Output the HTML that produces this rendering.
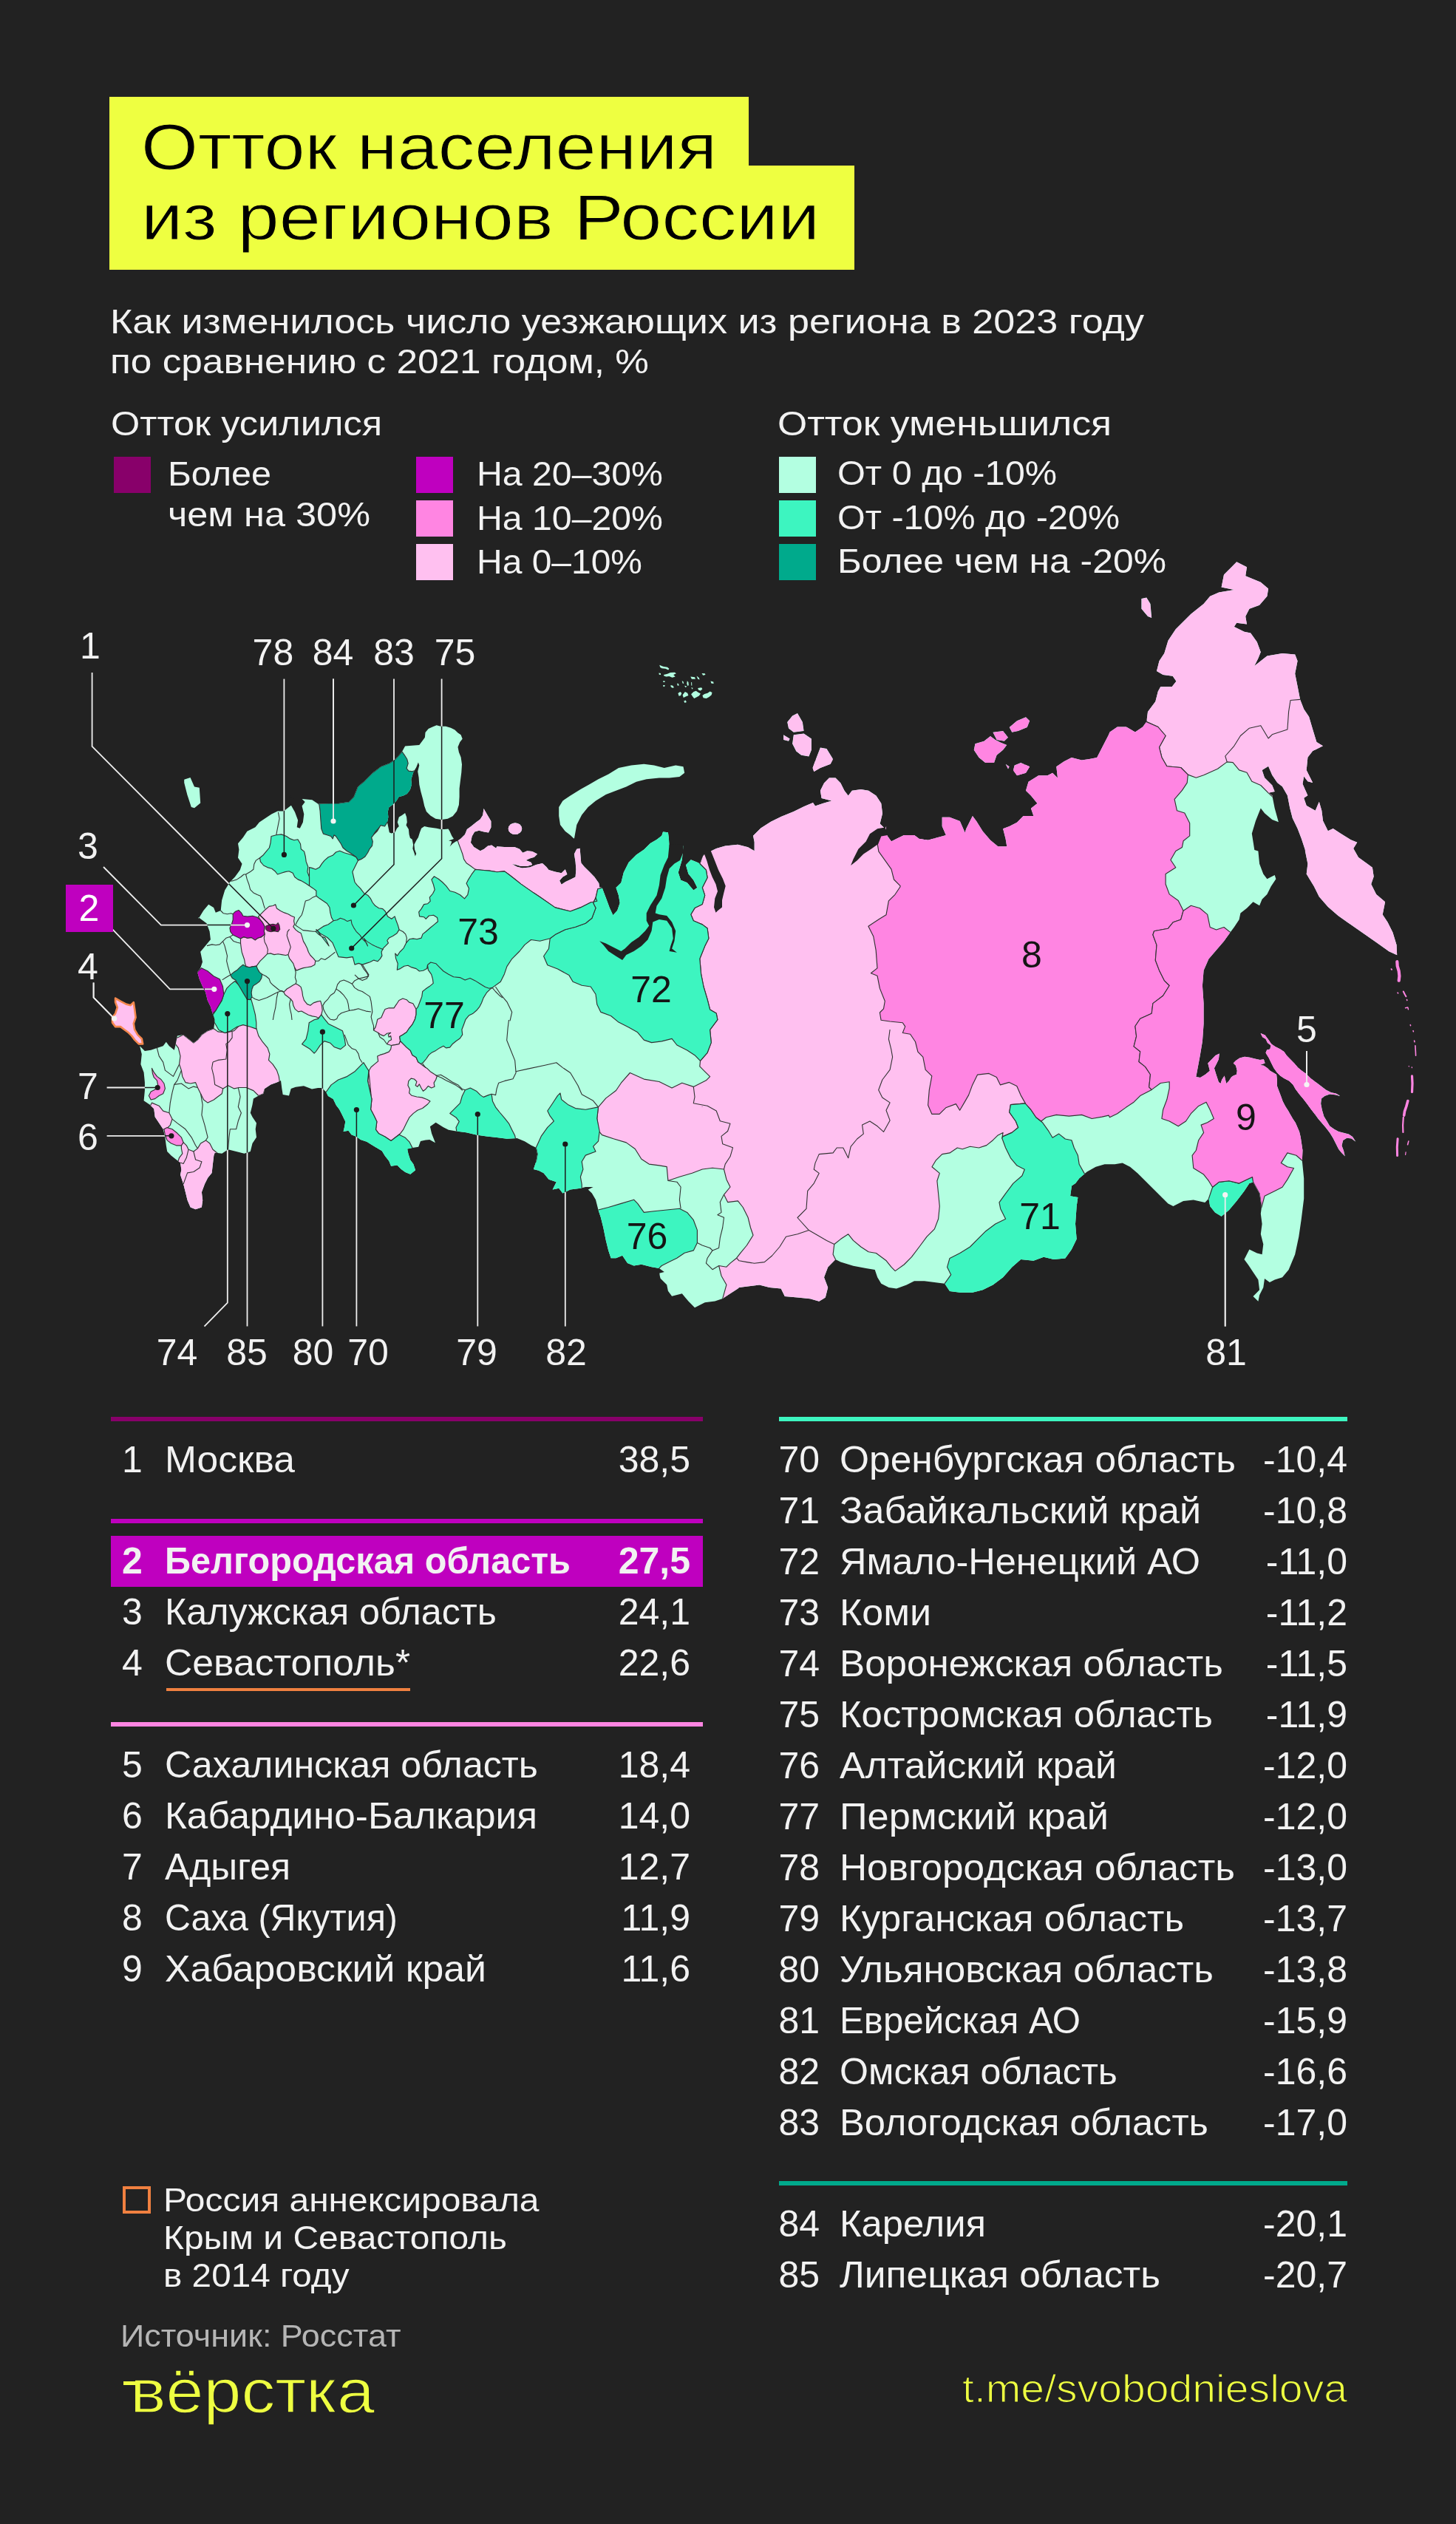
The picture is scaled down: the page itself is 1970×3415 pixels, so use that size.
<!DOCTYPE html>
<html lang="ru"><head><meta charset="utf-8"><title>Отток населения из регионов России</title>
<style>
*{margin:0;padding:0;box-sizing:border-box}
html,body{width:1970px;height:3415px;background:#222222;overflow:hidden}
body{position:relative;font-family:"Liberation Sans",sans-serif;color:#f2f2f2}
.a{position:absolute;white-space:nowrap;line-height:1;transform-origin:0 0}
.r{transform-origin:100% 0}
</style></head><body><div id="pg" style="position:absolute;left:0;top:0;width:1970px;height:3415px;will-change:transform">
<div style="position:absolute;left:148px;top:131px;width:865px;height:233.5px;background:#EEFF41;"></div>
<div style="position:absolute;left:148px;top:223.5px;width:1007.5px;height:141px;background:#EEFF41;"></div>
<div class="a" style="top:154.51px;font-size:88px;left:190.5px;color:#000;-webkit-text-stroke:1.0px #EEFF41;transform:scaleX(1.1237);">Отток населения</div>
<div class="a" style="top:249.51px;font-size:88px;left:190.5px;color:#000;-webkit-text-stroke:1.0px #EEFF41;transform:scaleX(1.1463);">из регионов России</div>
<div class="a" style="top:411.21px;font-size:47px;left:148.8px;transform:scaleX(1.1088);">Как изменилось число уезжающих из региона в 2023 году</div>
<div class="a" style="top:465.21px;font-size:47px;left:148.8px;transform:scaleX(1.0926);">по сравнению с 2021 годом, %</div>
<div class="a" style="top:548.51px;font-size:47px;left:150.3px;transform:scaleX(1.0743);">Отток усилился</div>
<div style="position:absolute;left:154px;top:618px;width:50px;height:49px;background:#88006A;"></div>
<div class="a" style="top:617.21px;font-size:47px;left:226.8px;transform:scaleX(1.0320);">Более</div>
<div class="a" style="top:672.21px;font-size:47px;left:226.8px;transform:scaleX(1.0736);">чем на 30%</div>
<div style="position:absolute;left:563px;top:618px;width:50px;height:49px;background:#BF00BF;"></div>
<div class="a" style="top:617.21px;font-size:47px;left:645px;transform:scaleX(1.0259);">На 20–30%</div>
<div style="position:absolute;left:563px;top:677px;width:50px;height:49px;background:#FF85E2;"></div>
<div class="a" style="top:676.71px;font-size:47px;left:645px;transform:scaleX(1.0259);">На 10–20%</div>
<div style="position:absolute;left:563px;top:736px;width:50px;height:49px;background:#FFC0F0;"></div>
<div class="a" style="top:736.21px;font-size:47px;left:645px;transform:scaleX(1.0205);">На 0–10%</div>
<div class="a" style="top:548.51px;font-size:47px;left:1051.5px;transform:scaleX(1.0996);">Отток уменьшился</div>
<div style="position:absolute;left:1054.3px;top:618px;width:49.7px;height:49px;background:#B3FFE1;"></div>
<div class="a" style="top:616.21px;font-size:47px;left:1132.5px;transform:scaleX(1.0360);">От 0 до -10%</div>
<div style="position:absolute;left:1054.3px;top:677px;width:49.7px;height:49px;background:#3DF5C0;"></div>
<div class="a" style="top:675.71px;font-size:47px;left:1132.5px;transform:scaleX(1.0317);">От -10% до -20%</div>
<div style="position:absolute;left:1054.3px;top:736px;width:49.7px;height:49px;background:#00AA8C;"></div>
<div class="a" style="top:735.21px;font-size:47px;left:1132.5px;transform:scaleX(1.0605);">Более чем на -20%</div>
<svg width="1970" height="1200" viewBox="0 740 1970 1200" style="position:absolute;left:0;top:740px;overflow:visible">
<defs><clipPath id="land">
<path d="M1673.2 760.3 L1687.0 767.2 L1685.2 779.2 L1705.8 787.8 L1716.1 796.4 L1714.4 806.7 L1704.1 818.7 L1690.4 823.8 L1685.2 834.1 L1687.0 844.4 L1673.2 842.7 L1669.8 847.9 L1683.5 854.7 L1692.1 856.5 L1700.7 868.5 L1705.8 882.2 L1702.4 890.8 L1697.3 901.1 L1705.8 894.2 L1714.4 887.4 L1735.0 883.9 L1752.2 885.6 L1755.6 894.2 L1752.2 911.4 L1755.6 928.6 L1759.1 946.4 L1764.2 959.5 L1771.1 969.8 L1776.2 987.0 L1781.4 1004.1 L1790.0 1009.3 L1776.2 1016.1 L1769.4 1024.7 L1767.7 1041.9 L1772.8 1052.2 L1776.2 1059.1 L1769.4 1057.3 L1764.2 1050.5 L1762.5 1060.8 L1769.4 1076.2 L1764.2 1079.7 L1767.7 1090.0 L1779.7 1096.8 L1784.8 1084.8 L1788.3 1096.8 L1790.0 1110.6 L1796.8 1124.3 L1803.7 1120.9 L1814.0 1127.7 L1827.7 1136.3 L1836.3 1139.8 L1831.2 1148.1 L1838.0 1160.1 L1850.1 1168.7 L1856.9 1173.8 L1858.7 1185.9 L1855.2 1196.2 L1862.1 1209.9 L1874.1 1220.2 L1870.7 1237.4 L1877.5 1247.7 L1884.4 1261.4 L1889.6 1278.6 L1890.2 1292.3 L1879.3 1287.2 L1862.1 1275.1 L1844.9 1263.1 L1827.7 1251.1 L1810.6 1239.1 L1796.8 1227.1 L1784.8 1213.3 L1778.0 1199.6 L1772.8 1191.0 L1767.7 1182.4 L1769.4 1168.7 L1765.9 1151.5 L1765.9 1150.1 L1760.8 1134.6 L1755.6 1120.9 L1748.8 1107.1 L1745.3 1093.4 L1741.9 1076.2 L1735.0 1064.2 L1728.2 1059.1 L1721.3 1048.8 L1716.1 1036.7 L1707.6 1041.9 L1711.0 1052.2 L1721.3 1062.5 L1724.7 1071.1 L1716.1 1072.8 L1721.3 1076.2 L1724.7 1093.4 L1729.9 1112.3 L1721.3 1108.9 L1711.0 1100.3 L1705.8 1093.4 L1699.0 1110.6 L1693.8 1127.7 L1697.3 1150.1 L1702.4 1151.5 L1704.1 1168.7 L1709.3 1182.4 L1714.4 1189.3 L1724.7 1184.1 L1726.4 1189.3 L1719.6 1199.6 L1714.4 1209.9 L1707.6 1216.8 L1704.1 1225.3 L1695.5 1220.2 L1687.0 1228.8 L1678.4 1235.6 L1676.6 1244.2 L1669.8 1254.5 L1664.6 1261.4 L1656.0 1273.4 L1645.7 1285.4 L1635.4 1297.5 L1628.6 1312.9 L1626.9 1333.5 L1628.6 1357.6 L1628.6 1385.0 L1626.9 1409.1 L1623.4 1429.7 L1618.3 1457.1 L1624.0 1458.1 L1630.9 1453.8 L1636.9 1448.7 L1634.3 1438.4 L1641.2 1431.5 L1644.6 1428.1 L1649.8 1425.5 L1648.9 1433.2 L1646.4 1438.4 L1642.9 1445.2 L1645.5 1453.8 L1648.9 1464.1 L1651.5 1465.9 L1653.2 1460.7 L1656.7 1455.5 L1659.2 1465.9 L1662.7 1462.4 L1666.1 1457.3 L1668.7 1455.5 L1673.0 1453.8 L1673.8 1448.7 L1672.1 1441.8 L1668.7 1438.4 L1672.1 1434.9 L1677.3 1431.5 L1684.1 1429.8 L1691.0 1430.7 L1697.9 1432.4 L1704.7 1434.1 L1709.9 1433.2 L1711.6 1438.4 L1704.7 1441.0 L1709.9 1441.8 L1715.0 1445.2 L1718.5 1448.7 L1722.8 1451.3 L1727.1 1453.8 L1727.9 1460.7 L1727.9 1469.3 L1730.5 1476.2 L1733.1 1483.0 L1735.6 1489.9 L1739.1 1496.8 L1742.5 1501.9 L1745.9 1507.9 L1749.4 1513.9 L1752.8 1519.1 L1755.4 1525.1 L1758.0 1531.1 L1759.7 1538.0 L1762.5 1556.5 L1761.8 1570.2 L1764.2 1594.2 L1764.2 1621.7 L1760.8 1649.2 L1757.3 1673.2 L1752.2 1697.3 L1743.6 1717.9 L1735.0 1728.2 L1724.7 1731.6 L1717.9 1735.0 L1711.0 1729.9 L1709.3 1741.9 L1704.1 1752.2 L1702.4 1760.8 L1695.5 1753.9 L1704.1 1745.3 L1702.4 1731.6 L1695.5 1721.3 L1688.7 1711.0 L1683.5 1704.1 L1690.4 1690.4 L1700.7 1695.5 L1707.6 1697.3 L1709.3 1683.5 L1705.8 1669.8 L1707.6 1656.0 L1705.8 1642.3 L1706.9 1633.7 L1704.1 1614.8 L1695.5 1599.4 L1690.4 1601.1 L1683.5 1611.4 L1673.2 1625.1 L1662.9 1637.2 L1652.6 1645.7 L1644.0 1640.6 L1637.2 1632.0 L1635.4 1621.7 L1630.3 1626.9 L1614.8 1623.4 L1601.1 1625.1 L1587.4 1632.0 L1580.5 1628.6 L1570.2 1618.3 L1559.9 1608.0 L1549.6 1597.7 L1539.3 1587.4 L1529.0 1578.8 L1518.7 1573.6 L1508.4 1575.3 L1494.6 1575.3 L1482.6 1578.8 L1470.6 1585.6 L1460.3 1594.2 L1455.2 1601.1 L1450.0 1604.5 L1448.1 1618.3 L1458.4 1620.0 L1456.7 1632.0 L1455.0 1656.0 L1456.7 1676.6 L1449.9 1690.4 L1441.3 1702.4 L1425.8 1704.1 L1412.1 1700.7 L1398.4 1705.8 L1381.2 1704.1 L1369.2 1714.4 L1357.1 1728.2 L1343.4 1738.5 L1329.7 1745.3 L1315.9 1748.8 L1298.8 1748.8 L1285.0 1747.0 L1278.2 1736.7 L1264.4 1735.0 L1250.7 1733.3 L1237.0 1733.3 L1226.6 1738.5 L1212.9 1743.6 L1202.6 1741.9 L1192.3 1736.7 L1187.2 1728.2 L1183.7 1717.9 L1171.7 1716.1 L1154.5 1712.7 L1137.4 1707.6 L1130.5 1704.1 L1120.2 1714.4 L1115.0 1728.2 L1120.2 1741.9 L1116.8 1755.6 L1108.2 1760.8 L1096.2 1757.3 L1079.0 1755.6 L1061.8 1753.9 L1056.7 1743.6 L1041.2 1741.9 L1027.5 1738.5 L1013.7 1740.2 L1000.0 1741.9 L998.4 1743.4 L988.0 1750.3 L977.7 1757.1 L967.4 1760.6 L953.7 1762.3 L940.0 1769.2 L931.4 1760.6 L922.8 1750.3 L909.1 1753.7 L903.9 1746.8 L902.2 1738.3 L893.6 1729.7 L891.9 1722.8 L898.8 1721.1 L891.9 1715.9 L881.6 1714.2 L867.9 1710.8 L857.6 1712.5 L849.0 1709.1 L842.1 1698.8 L833.5 1702.2 L826.6 1702.2 L823.2 1691.9 L819.8 1678.2 L816.3 1661.0 L812.9 1647.3 L809.5 1637.0 L806.0 1623.2 L800.9 1614.6 L795.7 1609.5 L802.6 1606.0 L792.3 1606.0 L785.4 1607.8 L771.7 1609.5 L761.4 1614.6 L756.2 1607.8 L747.7 1609.5 L752.8 1599.2 L742.5 1595.7 L735.6 1587.2 L728.8 1583.7 L721.9 1582.0 L725.3 1571.7 L727.1 1561.4 L725.3 1552.8 L718.5 1549.4 L709.9 1544.2 L699.6 1540.1 L685.9 1540.8 L672.1 1539.1 L658.4 1537.4 L644.6 1535.6 L630.9 1532.2 L617.2 1530.5 L606.9 1528.8 L600.0 1525.3 L596.4 1522.9 L589.6 1518.7 L581.9 1524.2 L584.1 1533.8 L589.0 1546.2 L581.3 1542.1 L575.8 1542.6 L569.0 1544.0 L566.2 1551.7 L558.0 1553.1 L551.1 1554.5 L552.5 1561.3 L555.2 1569.6 L559.3 1575.1 L562.1 1583.3 L555.2 1588.8 L548.4 1586.0 L542.9 1581.9 L537.4 1576.4 L529.1 1577.8 L526.4 1570.9 L520.9 1564.1 L516.8 1557.2 L509.9 1553.1 L503.0 1549.0 L496.2 1544.8 L487.9 1542.1 L482.4 1538.0 L475.5 1535.2 L471.4 1529.7 L464.6 1531.1 L465.9 1525.6 L467.3 1517.4 L463.2 1509.1 L459.1 1500.9 L454.9 1495.4 L450.8 1487.1 L444.0 1483.0 L441.2 1477.5 L435.7 1472.0 L430.2 1472.0 L422.0 1473.4 L411.0 1469.3 L400.0 1470.7 L393.7 1472.9 L391.0 1482.5 L382.7 1481.1 L381.4 1472.9 L380.0 1461.9 L374.5 1464.6 L366.3 1467.4 L358.0 1472.9 L356.6 1479.7 L349.8 1482.5 L342.9 1486.6 L341.5 1494.8 L338.8 1505.8 L341.5 1511.3 L347.0 1519.6 L345.7 1527.8 L347.0 1538.8 L341.5 1547.0 L338.8 1558.0 L330.5 1560.8 L319.6 1558.0 L308.6 1555.3 L300.3 1560.8 L290.7 1559.4 L289.3 1563.5 L288.0 1574.5 L286.6 1586.9 L281.1 1593.7 L277.0 1602.0 L272.9 1613.0 L274.2 1624.0 L272.9 1633.6 L264.6 1636.3 L257.7 1633.6 L253.6 1624.0 L250.9 1613.0 L248.1 1602.0 L244.0 1589.6 L245.4 1582.7 L244.0 1573.1 L238.5 1569.0 L231.6 1563.5 L226.2 1558.0 L224.8 1549.8 L223.4 1538.8 L220.7 1527.8 L215.2 1519.6 L209.7 1511.3 L208.3 1500.3 L202.8 1494.8 L194.6 1489.3 L195.9 1475.6 L195.9 1464.6 L194.6 1450.9 L190.4 1439.9 L191.8 1426.2 L189.1 1415.2 L195.9 1422.0 L204.2 1420.7 L212.4 1417.9 L220.7 1415.2 L224.8 1409.7 L228.9 1415.2 L235.8 1420.7 L238.5 1409.7 L239.9 1401.4 L248.1 1400.1 L255.0 1405.5 L261.9 1411.0 L267.4 1406.9 L272.9 1400.1 L281.1 1394.6 L289.3 1391.8 L290.7 1379.5 L289.3 1375.3 L287.7 1371.5 L284.9 1361.9 L280.8 1353.6 L278.1 1342.6 L274.0 1334.4 L269.8 1324.8 L267.1 1315.2 L271.2 1309.7 L274.0 1301.4 L271.2 1287.7 L278.1 1279.5 L284.9 1271.2 L283.6 1260.2 L279.5 1249.2 L268.5 1241.0 L268.5 1243.0 L275.3 1232.0 L282.2 1223.7 L289.1 1227.9 L291.8 1234.7 L298.7 1232.0 L300.1 1218.2 L304.2 1204.5 L311.0 1193.5 L317.9 1186.6 L324.8 1177.0 L327.5 1168.8 L322.0 1160.5 L323.4 1149.6 L322.0 1141.3 L328.9 1133.1 L334.4 1124.8 L345.4 1119.3 L350.9 1112.5 L359.1 1107.0 L367.4 1101.5 L375.6 1097.4 L383.8 1097.4 L394.8 1089.1 L408.6 1080.9 L422.3 1082.3 L430.5 1087.7 L444.3 1086.9 L458.0 1086.9 L471.8 1085.0 L478.6 1078.1 L484.1 1064.4 L493.7 1056.2 L504.7 1045.2 L515.7 1036.9 L526.7 1032.8 L534.9 1027.3 L544.0 1017.0 L548.1 1009.5 L557.7 1008.8 L567.3 1008.1 L571.4 1002.6 L574.9 997.8 L575.5 990.9 L579.7 986.1 L585.2 983.4 L590.7 981.3 L596.2 982.7 L603.0 982.7 L609.9 984.7 L615.4 987.5 L619.5 991.6 L623.6 994.3 L625.7 999.8 L622.3 1004.0 L619.5 1010.8 L620.9 1017.7 L623.6 1024.6 L625.0 1034.2 L624.3 1045.2 L622.9 1056.2 L621.6 1067.1 L621.6 1078.1 L620.9 1089.1 L618.1 1097.4 L612.6 1104.2 L605.8 1107.7 L597.5 1109.0 L589.3 1107.7 L582.4 1103.5 L576.9 1098.0 L574.2 1090.5 L572.1 1080.9 L569.4 1071.3 L567.3 1061.6 L566.6 1052.0 L565.2 1043.8 L567.3 1035.5 L565.9 1031.4 L563.2 1038.3 L559.1 1045.2 L556.3 1054.8 L557.0 1061.6 L554.9 1068.5 L550.8 1074.0 L545.3 1076.8 L539.8 1078.1 L536.4 1083.6 L531.6 1088.4 L526.1 1092.6 L524.7 1098.7 L525.4 1105.6 L524.0 1112.5 L525.4 1119.3 L526.8 1126.2 L529.5 1127.6 L534.3 1126.2 L537.1 1120.7 L539.8 1118.0 L537.8 1112.5 L539.8 1105.6 L544.0 1102.9 L548.1 1100.1 L550.1 1105.6 L550.8 1112.5 L549.5 1116.6 L552.9 1122.1 L553.6 1129.0 L554.9 1133.8 L557.7 1135.8 L559.1 1142.7 L558.4 1148.2 L560.4 1153.7 L561.8 1158.5 L563.2 1155.1 L561.1 1149.6 L560.4 1142.7 L563.2 1137.2 L565.9 1133.1 L568.0 1126.2 L570.1 1120.7 L574.2 1118.0 L579.7 1119.3 L585.2 1120.0 L590.7 1120.7 L596.2 1122.1 L601.6 1122.1 L606.5 1121.4 L608.5 1124.8 L611.3 1131.0 L614.0 1135.1 L609.9 1136.5 L607.1 1137.2 L611.3 1138.6 L609.9 1142.7 L608.5 1145.4 L612.6 1141.3 L616.8 1138.6 L618.8 1137.9 L623.6 1134.5 L629.1 1129.0 L631.9 1122.1 L637.4 1118.0 L644.2 1112.5 L649.7 1108.4 L653.2 1102.9 L654.5 1093.9 L659.2 1102.3 L664.4 1110.9 L664.4 1119.5 L661.0 1126.4 L654.9 1125.5 L648.1 1123.8 L642.1 1125.5 L638.6 1131.5 L636.9 1140.1 L641.2 1146.1 L649.8 1151.3 L654.9 1148.7 L660.1 1144.4 L665.2 1143.5 L671.3 1147.8 L672.1 1145.2 L682.4 1146.1 L696.2 1146.1 L703.0 1148.7 L707.3 1153.8 L713.3 1151.3 L720.2 1152.1 L727.1 1155.5 L722.8 1159.8 L716.8 1161.6 L711.6 1164.1 L718.5 1166.7 L720.2 1170.1 L713.3 1171.9 L704.7 1171.9 L697.9 1170.1 L692.7 1168.9 L699.6 1172.7 L706.5 1174.4 L716.8 1173.6 L725.3 1170.1 L733.9 1167.9 L739.1 1172.7 L742.5 1177.0 L751.1 1179.6 L759.7 1181.3 L764.8 1176.2 L767.4 1183.0 L761.4 1186.5 L757.1 1191.6 L759.7 1196.8 L764.8 1193.3 L771.7 1189.9 L778.6 1186.5 L779.4 1176.2 L778.6 1165.9 L776.9 1155.5 L780.3 1148.7 L784.6 1147.8 L785.4 1157.3 L786.3 1167.6 L790.6 1172.7 L797.5 1179.6 L804.3 1186.5 L810.3 1195.0 L811.2 1200.4 L814.6 1201.1 L819.8 1214.8 L824.9 1228.6 L829.4 1238.2 L835.2 1232.0 L838.7 1221.7 L837.0 1211.4 L833.5 1201.1 L840.4 1194.2 L843.8 1180.5 L850.7 1166.8 L861.0 1156.5 L871.3 1149.6 L879.9 1141.0 L888.5 1135.9 L895.3 1130.7 L897.0 1125.5 L903.9 1126.2 L904.9 1134.1 L905.6 1146.2 L924.5 1144.4 L922.8 1163.3 L917.7 1180.5 L921.1 1190.8 L929.7 1194.2 L938.3 1204.5 L943.4 1201.1 L938.3 1190.8 L931.4 1182.2 L928.0 1170.2 L934.8 1163.3 L943.4 1166.8 L946.8 1168.5 L952.0 1156.5 L958.9 1153.0 L969.2 1147.9 L981.2 1144.4 L998.4 1142.7 L1012.1 1146.2 L1020.7 1151.3 L1020.7 1139.3 L1019.0 1130.7 L1029.3 1120.4 L1043.0 1111.8 L1056.7 1104.9 L1073.9 1098.1 L1087.6 1091.2 L1100.0 1086.1 L1103.0 1090.4 L1113.3 1087.0 L1125.3 1083.5 L1111.6 1080.1 L1109.9 1069.8 L1115.0 1059.5 L1121.9 1052.6 L1130.5 1052.6 L1137.4 1059.5 L1142.5 1069.8 L1147.7 1076.6 L1152.8 1069.8 L1164.8 1068.1 L1175.1 1069.8 L1185.4 1076.6 L1192.3 1087.0 L1194.0 1100.7 L1190.6 1114.4 L1197.5 1121.3 L1199.2 1117.9 L1197.5 1124.7 L1200.9 1131.6 L1206.0 1138.5 L1212.9 1135.0 L1223.2 1129.9 L1237.0 1129.9 L1243.8 1135.0 L1255.8 1136.7 L1267.9 1133.3 L1279.9 1129.9 L1274.7 1117.9 L1274.7 1105.8 L1285.0 1105.8 L1298.8 1111.0 L1305.6 1126.4 L1307.3 1121.3 L1315.9 1104.1 L1321.1 1111.0 L1329.7 1124.7 L1340.0 1136.7 L1350.3 1145.3 L1362.3 1145.3 L1360.6 1135.0 L1357.1 1121.3 L1365.7 1117.9 L1376.0 1112.7 L1384.6 1104.1 L1398.4 1104.1 L1394.9 1093.8 L1403.5 1087.0 L1394.9 1076.6 L1388.0 1069.8 L1391.5 1057.8 L1405.2 1049.2 L1417.2 1049.2 L1424.1 1045.7 L1431.0 1052.6 L1429.3 1037.2 L1439.6 1030.3 L1449.9 1025.1 L1463.6 1028.6 L1473.9 1026.9 L1484.2 1025.1 L1491.1 1011.4 L1500.0 994.2 L1501.5 990.4 L1511.8 983.5 L1523.8 983.5 L1535.9 990.4 L1546.2 983.5 L1551.3 976.6 L1553.0 962.9 L1563.3 949.2 L1566.8 935.4 L1570.2 929.3 L1585.6 929.3 L1591.5 921.7 L1586.7 914.8 L1573.6 913.1 L1565.0 908.0 L1568.5 894.2 L1575.3 883.9 L1580.5 866.8 L1590.8 851.3 L1601.1 841.0 L1611.4 830.7 L1628.6 817.0 L1637.2 806.7 L1649.2 801.5 L1669.8 798.1 L1652.6 794.6 L1656.0 777.5 L1666.3 767.2Z"/>
<path d="M1544.4 810.1 L1551.3 808.4 L1556.5 817.0 L1558.2 835.9 L1553.0 834.1 L1544.4 823.8Z"/>
<path d="M1079.0 965.0 L1085.9 977.1 L1087.6 989.1 L1073.8 990.8 L1067.0 985.6 L1065.2 977.1 L1072.1 968.5Z"/>
<path d="M1073.8 994.2 L1087.6 992.5 L1097.9 999.4 L1097.9 1014.8 L1094.4 1023.4 L1084.1 1021.7 L1077.3 1016.6 L1072.1 1006.2Z"/>
<path d="M1060.1 994.2 L1068.7 999.4 L1067.0 1002.8 L1060.1 1001.1Z"/>
<path d="M1109.9 1011.4 L1118.5 1013.1 L1127.1 1026.9 L1123.6 1033.7 L1109.9 1038.9 L1101.3 1044.0 L1099.6 1038.9 L1104.7 1025.1Z"/>
<path d="M1319.4 1006.2 L1331.4 1002.8 L1340.0 995.9 L1346.8 1001.1 L1353.7 1004.5 L1362.3 1008.0 L1357.1 1014.8 L1348.6 1021.7 L1345.1 1032.0 L1333.1 1032.0 L1324.5 1025.1 L1317.7 1014.8Z"/>
<path d="M1343.4 990.8 L1357.1 989.1 L1364.0 997.7 L1358.9 1002.8 L1348.6 1001.1Z"/>
<path d="M1365.7 983.9 L1376.0 975.3 L1388.0 970.2 L1393.2 975.3 L1389.8 983.9 L1377.7 989.1 L1369.2 990.8Z"/>
<path d="M1372.6 1035.4 L1381.2 1032.0 L1393.2 1037.2 L1388.0 1045.7 L1376.0 1049.2 L1370.9 1042.3Z"/>
<path d="M1360.6 1033.7 L1365.7 1037.2 L1364.0 1040.6Z"/>
<path d="M761.4 1083.5 L771.7 1076.6 L785.4 1068.1 L797.5 1061.2 L809.5 1054.3 L823.2 1047.5 L837.0 1038.9 L854.1 1035.4 L871.3 1033.7 L885.0 1035.4 L898.8 1038.9 L914.2 1035.4 L924.5 1037.2 L926.2 1045.7 L919.4 1050.9 L905.6 1052.6 L891.9 1052.6 L874.7 1054.3 L861.0 1057.8 L847.3 1064.6 L833.5 1069.8 L819.8 1074.9 L806.0 1083.5 L795.7 1092.1 L787.2 1102.4 L780.3 1116.1 L776.9 1135.0 L771.7 1129.9 L764.8 1124.7 L758.0 1116.1 L756.2 1104.1 L756.2 1092.1Z"/>
<path d="M706.3 1121.2 L705.6 1124.2 L703.6 1126.8 L700.6 1128.5 L697.0 1129.1 L693.4 1128.5 L690.4 1126.8 L688.4 1124.2 L687.7 1121.2 L688.4 1118.2 L690.4 1115.6 L693.4 1113.9 L697.0 1113.3 L700.6 1113.9 L703.6 1115.6 L705.6 1118.2Z"/>
<path d="M249.2 1054.8 L257.5 1052.0 L263.0 1064.4 L269.8 1065.8 L271.2 1086.4 L263.0 1093.2 L258.8 1091.9 L253.4 1075.4 L249.2 1058.9Z"/>
<path d="M1705.6 1398.0 L1711.6 1400.6 L1716.8 1407.5 L1720.2 1412.6 L1725.3 1416.1 L1732.2 1419.5 L1737.4 1422.9 L1740.8 1428.1 L1745.9 1433.2 L1751.1 1438.4 L1756.2 1444.4 L1761.4 1448.7 L1767.4 1453.0 L1773.4 1459.0 L1780.3 1464.1 L1787.2 1469.3 L1794.0 1474.4 L1800.9 1477.9 L1807.8 1479.6 L1813.8 1483.0 L1806.0 1481.3 L1799.2 1480.4 L1792.3 1483.0 L1788.0 1486.5 L1787.2 1493.3 L1788.9 1501.9 L1791.4 1510.5 L1795.7 1517.4 L1799.2 1523.4 L1805.2 1527.7 L1811.2 1531.1 L1818.1 1532.8 L1824.9 1534.5 L1830.1 1538.0 L1834.4 1544.8 L1828.4 1540.5 L1822.4 1539.7 L1817.2 1543.1 L1815.5 1550.0 L1818.1 1556.9 L1819.8 1564.6 L1815.5 1560.3 L1811.2 1555.1 L1807.8 1548.3 L1803.5 1539.7 L1799.2 1532.8 L1794.0 1525.9 L1788.9 1519.9 L1783.7 1513.9 L1778.6 1507.1 L1773.4 1500.2 L1768.3 1493.3 L1763.1 1486.5 L1758.0 1480.4 L1752.8 1473.6 L1749.4 1467.6 L1744.2 1462.4 L1737.4 1459.0 L1732.2 1455.5 L1727.9 1451.3 L1723.6 1445.2 L1720.2 1438.4 L1716.8 1431.5 L1712.5 1424.6 L1714.2 1420.4 L1718.5 1419.5 L1719.3 1414.3 L1715.0 1410.9 L1712.5 1405.8 L1708.2 1403.2Z"/>
<path d="M156.1 1350.6 L163.0 1354.7 L171.2 1358.8 L176.7 1360.2 L180.8 1356.1 L182.2 1365.7 L183.6 1376.7 L180.8 1384.9 L182.2 1393.2 L186.3 1400.1 L191.8 1405.5 L193.2 1412.4 L187.7 1412.4 L182.2 1406.9 L178.1 1401.4 L174.0 1397.3 L168.5 1393.2 L163.0 1389.1 L156.1 1389.1 L152.0 1383.6 L152.0 1376.7 L156.1 1371.2 L158.8 1363.0 L156.1 1356.1Z"/>
<path d="M892.3 899.8 L897.2 901.8 L903.0 902.7 L905.4 904.7 L904.2 906.4 L900.5 904.7 L895.5 904.3 L893.1 902.7Z"/>
<path d="M898.0 913.0 L903.0 911.7 L907.1 910.1 L912.9 909.7 L914.9 911.3 L911.2 913.0 L913.7 915.4 L909.6 916.7 L905.4 915.0 L901.3 915.4 L898.4 914.6Z"/>
<path d="M891.4 910.5 L893.9 910.9 L894.1 913.0 L891.8 912.8Z"/>
<path d="M897.2 921.2 L899.7 921.4 L899.5 923.0 L897.4 922.9Z"/>
<path d="M897.2 927.0 L899.7 927.1 L899.0 929.2 L897.4 928.8Z"/>
<path d="M907.5 927.0 L910.4 927.8 L912.0 930.3 L909.6 930.7 L907.5 929.0Z"/>
<path d="M929.8 921.2 L931.4 922.9 L931.8 927.0 L930.6 928.2 L929.3 925.3Z"/>
<path d="M935.1 922.9 L936.1 923.3 L936.3 927.8 L935.3 927.6Z"/>
<path d="M934.3 915.4 L940.1 916.3 L940.9 918.7 L935.9 918.7Z"/>
<path d="M942.5 914.6 L945.8 917.1 L946.6 919.6 L944.2 918.7Z"/>
<path d="M949.5 910.9 L953.7 911.3 L954.5 913.0 L951.2 913.8Z"/>
<path d="M961.5 921.6 L965.2 922.4 L965.6 924.9 L962.3 924.5Z"/>
<path d="M944.2 931.1 L949.1 930.3 L950.4 932.3 L947.9 934.4 L945.0 933.6Z"/>
<path d="M917.4 938.1 L920.3 936.0 L922.3 937.7 L921.1 941.0 L918.6 941.8Z"/>
<path d="M923.6 940.2 L926.9 936.0 L930.2 937.7 L931.4 941.0 L927.7 942.6 L924.8 943.9Z"/>
<path d="M935.1 939.3 L938.4 936.0 L941.7 934.8 L945.0 936.9 L947.9 938.5 L945.8 941.4 L942.1 943.5 L939.2 945.1 L937.2 942.6Z"/>
<path d="M950.4 941.0 L953.2 938.9 L957.4 937.7 L960.7 935.6 L963.5 936.9 L962.7 940.2 L959.4 943.0 L955.7 945.1 L951.6 944.3Z"/>
<path d="M925.2 948.4 L927.7 947.6 L928.9 950.1 L926.5 950.9Z"/>
<path d="M926.0 927.8 L929.3 928.6 L927.7 930.3Z"/>
<path d="M935.1 930.3 L937.6 930.7 L936.8 932.7Z"/>
<path d="M922.7 921.2 L924.4 922.0 L925.2 924.9 L923.6 924.5Z"/>
<path d="M916.2 924.5 L918.2 925.3 L918.6 927.8 L916.6 927.4Z"/>
</clipPath></defs>
<path d="M124.6 910.0 L124.6 1009.8 L369.8 1256.3" fill="none" stroke="#eeeeee" stroke-width="1.8"/>
<path d="M384.4 918.6 L384.4 1156.4" fill="none" stroke="#eeeeee" stroke-width="1.8"/>
<path d="M451.0 918.6 L451.0 1111.0" fill="none" stroke="#eeeeee" stroke-width="1.8"/>
<path d="M533.0 918.6 L533.0 1169.7 L478.4 1225.0" fill="none" stroke="#eeeeee" stroke-width="1.8"/>
<path d="M597.6 918.6 L597.6 1161.7 L475.7 1283.0" fill="none" stroke="#eeeeee" stroke-width="1.8"/>
<path d="M140.0 1173.0 L217.9 1251.6 L334.5 1251.6" fill="none" stroke="#eeeeee" stroke-width="1.8"/>
<path d="M151.3 1256.3 L229.9 1338.3 L289.8 1338.3" fill="none" stroke="#eeeeee" stroke-width="1.8"/>
<path d="M126.6 1329.6 L126.6 1349.6 L154.6 1378.2" fill="none" stroke="#eeeeee" stroke-width="1.8"/>
<path d="M144.6 1471.5 L213.2 1471.5" fill="none" stroke="#eeeeee" stroke-width="1.8"/>
<path d="M144.6 1536.8 L231.9 1536.8" fill="none" stroke="#eeeeee" stroke-width="1.8"/>
<path d="M276.5 1794.6 L307.8 1762.6 L307.8 1371.6" fill="none" stroke="#eeeeee" stroke-width="1.8"/>
<path d="M334.5 1794.6 L334.5 1327.6" fill="none" stroke="#eeeeee" stroke-width="1.8"/>
<path d="M436.4 1794.6 L436.4 1396.2" fill="none" stroke="#eeeeee" stroke-width="1.8"/>
<path d="M482.4 1794.6 L482.4 1501.5" fill="none" stroke="#eeeeee" stroke-width="1.8"/>
<path d="M646.3 1794.6 L646.3 1507.5" fill="none" stroke="#eeeeee" stroke-width="1.8"/>
<path d="M764.8 1794.6 L764.8 1548.0" fill="none" stroke="#eeeeee" stroke-width="1.8"/>
<path d="M1657.7 1794.6 L1657.7 1616.7" fill="none" stroke="#eeeeee" stroke-width="1.8"/>
<path d="M1768.0 1422.0 L1768.0 1467.5" fill="none" stroke="#eeeeee" stroke-width="1.8"/>
<g clip-path="url(#land)">
<rect x="0" y="740" width="1970" height="1200" fill="#B3FFE1"/>
<path d="M1551.3 976.6 L1566.8 983.5 L1577.1 995.5 L1568.5 1011.0 L1571.9 1024.7 L1578.8 1036.7 L1597.7 1038.5 L1607.3 1048.1 L1618.3 1052.2 L1628.6 1048.8 L1647.5 1040.2 L1660.2 1030.9 L1668.1 1031.6 L1676.6 1041.9 L1687.0 1045.3 L1693.8 1057.3 L1705.8 1062.5 L1716.1 1072.8 L1738.5 1093.4 L1740.2 1114.0 L1748.8 1134.3 L1748.8 1189.3 L1776.2 1244.2 L1827.7 1278.6 L1896.4 1312.9 L1937.6 1271.7 L1896.4 1127.7 L1844.9 990.4 L1810.6 853.0 L1724.7 763.7 L1669.8 750.0 L1587.4 818.7 L1535.9 921.7Z" fill="#FFC0F0" stroke="#333333" stroke-width="1.15" stroke-linejoin="round"/>
<path d="M952.0 1156.5 L950.3 1158.2 L946.8 1168.5 L955.4 1177.1 L957.1 1187.4 L950.3 1201.1 L953.7 1211.4 L950.3 1223.4 L940.0 1228.6 L934.8 1237.2 L938.3 1245.7 L950.3 1250.9 L957.1 1256.0 L958.9 1269.8 L953.7 1280.1 L946.8 1297.3 L948.6 1317.9 L952.0 1335.0 L957.1 1352.2 L960.6 1365.9 L969.2 1371.1 L970.9 1379.7 L960.6 1393.4 L962.3 1410.6 L957.1 1424.3 L947.5 1435.3 L946.8 1442.9 L953.7 1449.8 L960.6 1456.7 L955.4 1461.8 L938.3 1470.4 L922.8 1465.2 L909.1 1472.1 L891.9 1463.5 L871.3 1460.1 L852.4 1451.5 L840.4 1465.2 L833.5 1475.5 L819.8 1485.9 L809.5 1497.9 L807.8 1513.3 L810.2 1530.5 L814.6 1535.6 L830.1 1540.8 L847.3 1545.9 L859.3 1554.5 L867.9 1568.3 L878.2 1575.1 L891.9 1576.9 L902.2 1578.6 L903.9 1597.5 L919.4 1592.3 L936.5 1587.2 L950.3 1582.0 L964.0 1580.3 L979.5 1582.0 L982.9 1595.7 L988.0 1606.0 L979.5 1616.3 L984.6 1626.6 L998.4 1624.9 L1005.2 1633.5 L1012.1 1647.3 L1015.5 1661.0 L1019.0 1671.3 L1010.4 1685.0 L1001.8 1695.3 L996.6 1702.2 L988.0 1709.1 L982.9 1714.2 L972.6 1712.5 L976.0 1726.2 L982.9 1738.3 L977.7 1757.1 L977.7 1784.6 L1100.0 1784.6 L1000.0 1765.9 L1116.8 1779.7 L1130.5 1704.1 L1127.1 1697.3 L1128.8 1683.5 L1137.4 1676.6 L1147.7 1669.8 L1154.5 1678.4 L1164.8 1687.0 L1175.1 1693.8 L1185.4 1695.5 L1199.2 1705.8 L1206.0 1714.4 L1211.2 1719.6 L1223.2 1711.0 L1233.5 1700.7 L1243.8 1687.0 L1254.1 1673.2 L1264.4 1662.9 L1269.6 1649.2 L1271.3 1632.0 L1269.6 1614.8 L1267.9 1597.7 L1271.3 1587.4 L1261.0 1578.8 L1266.1 1570.2 L1274.7 1561.6 L1285.0 1559.9 L1295.3 1553.0 L1302.2 1554.7 L1312.5 1551.3 L1324.5 1553.0 L1334.8 1549.6 L1343.4 1542.7 L1350.3 1535.9 L1357.1 1532.4 L1355.8 1540.0 L1357.1 1537.6 L1369.2 1532.4 L1377.7 1525.5 L1374.3 1517.0 L1365.7 1504.9 L1367.4 1494.6 L1388.0 1492.9 L1420.0 1400.0 L1350.0 1250.0 L1290.0 1150.0 L1223.2 1111.0 L1206.0 1021.7 L1103.0 1028.6 L1000.0 1090.4 L977.7 1118.7 L952.0 1135.9Z" fill="#FFC0F0" stroke="#333333" stroke-width="1.15" stroke-linejoin="round"/>
<path d="M617.4 1131.7 L619.1 1136.9 L620.8 1142.0 L623.4 1148.9 L625.9 1155.8 L627.7 1162.6 L631.1 1167.8 L636.2 1171.2 L643.1 1176.4 L651.7 1177.2 L662.0 1178.1 L672.3 1179.8 L682.6 1178.9 L688.6 1183.2 L696.3 1189.2 L704.9 1196.1 L713.5 1202.1 L722.1 1208.1 L730.0 1213.3 L751.1 1227.9 L771.7 1233.0 L785.4 1227.9 L799.2 1221.0 L807.8 1219.3 L806.0 1214.8 L808.8 1202.8 L819.8 1201.1 L819.8 1180.5 L792.3 1135.9 L703.0 1129.0 L654.9 1084.3 L625.8 1123.8Z" fill="#FFC0F0" stroke="#333333" stroke-width="1.15" stroke-linejoin="round"/>
<path d="M349.5 1240.1 L353.8 1235.8 L359.0 1230.7 L364.1 1226.4 L369.3 1225.5 L372.7 1223.8 L374.4 1228.9 L379.6 1232.4 L384.7 1234.9 L389.9 1236.7 L394.2 1239.2 L398.5 1241.0 L397.6 1246.1 L398.5 1250.4 L396.8 1253.8 L400.2 1258.1 L403.6 1260.7 L407.1 1262.4 L408.8 1267.6 L410.5 1273.6 L413.1 1277.9 L415.6 1283.0 L417.4 1288.2 L419.9 1292.5 L424.2 1296.8 L426.8 1300.2 L425.9 1305.3 L420.8 1307.9 L415.6 1308.8 L410.5 1309.6 L405.3 1311.4 L401.1 1313.1 L398.5 1308.8 L396.8 1303.6 L394.2 1300.2 L391.6 1296.8 L389.9 1291.6 L386.5 1292.5 L381.3 1291.6 L376.2 1290.7 L371.0 1291.6 L365.9 1289.9 L361.6 1290.7 L359.0 1293.3 L355.5 1296.8 L352.1 1300.2 L349.5 1303.6 L347.0 1307.1 L341.8 1307.9 L337.5 1308.8 L333.2 1307.9 L331.5 1303.6 L330.7 1298.5 L328.9 1293.3 L327.2 1288.2 L326.4 1283.0 L325.5 1276.2 L325.5 1270.1 L329.8 1267.6 L334.9 1269.3 L340.1 1268.4 L345.2 1271.9 L348.7 1269.3 L353.8 1267.6 L358.1 1264.1 L357.3 1259.8 L358.1 1253.8 L355.5 1248.7 L352.1 1244.4Z" fill="#FFC0F0" stroke="#333333" stroke-width="1.15" stroke-linejoin="round"/>
<path d="M383.9 1342.3 L388.2 1338.0 L392.5 1335.4 L396.8 1332.8 L400.2 1331.1 L403.6 1332.8 L407.1 1335.4 L408.8 1341.4 L409.6 1347.4 L411.4 1353.4 L415.6 1358.6 L419.9 1360.3 L424.2 1356.9 L429.4 1355.1 L433.7 1354.3 L435.4 1360.3 L436.2 1367.2 L434.5 1374.0 L431.1 1377.5 L427.7 1375.7 L422.5 1374.9 L417.4 1373.2 L412.2 1370.6 L407.9 1368.0 L403.6 1368.9 L399.3 1365.4 L396.8 1360.3 L395.9 1355.1 L393.3 1351.7 L389.0 1348.3 L385.6 1345.7Z" fill="#FFC0F0" stroke="#333333" stroke-width="1.15" stroke-linejoin="round"/>
<path d="M505.5 1393.9 L508.1 1389.6 L509.8 1383.6 L510.7 1379.3 L515.9 1376.7 L518.4 1370.7 L521.0 1365.5 L526.2 1363.8 L533.0 1363.8 L536.5 1358.7 L539.9 1353.5 L545.0 1351.0 L550.2 1352.7 L553.6 1356.1 L558.8 1357.8 L563.1 1365.5 L563.1 1372.4 L561.4 1379.3 L557.9 1386.2 L553.6 1391.3 L550.2 1396.5 L545.0 1399.9 L540.7 1402.5 L541.6 1408.5 L539.9 1412.8 L534.7 1413.6 L529.6 1414.5 L523.6 1412.8 L526.2 1408.5 L529.6 1406.8 L528.7 1401.6 L526.2 1403.3 L525.3 1399.9 L528.7 1397.3 L523.6 1398.2 L519.3 1401.6 L515.0 1399.9 L511.6 1397.3Z" fill="#FFC0F0" stroke="#333333" stroke-width="1.15" stroke-linejoin="round"/>
<path d="M541.6 1408.5 L545.0 1411.9 L550.2 1417.1 L555.3 1421.4 L557.9 1427.4 L563.1 1430.8 L565.6 1436.8 L569.1 1439.4 L572.5 1442.0 L577.7 1445.4 L582.0 1449.7 L587.1 1453.1 L591.4 1455.7 L589.7 1460.8 L587.1 1465.1 L588.0 1470.3 L583.7 1472.0 L579.4 1469.4 L575.9 1473.7 L572.5 1476.3 L569.9 1472.0 L567.4 1466.9 L564.8 1470.3 L562.2 1468.6 L563.9 1463.4 L560.5 1460.0 L556.2 1459.1 L552.8 1462.6 L551.9 1468.6 L554.5 1473.7 L553.6 1478.9 L557.1 1482.3 L563.9 1484.0 L570.8 1484.9 L577.7 1487.5 L582.0 1490.0 L578.6 1494.0 L571.7 1499.5 L564.8 1502.3 L559.3 1506.4 L553.8 1511.9 L549.7 1520.1 L545.6 1528.4 L541.5 1533.8 L534.6 1539.3 L529.1 1543.5 L520.9 1538.0 L512.6 1533.8 L508.5 1528.4 L509.9 1517.4 L505.8 1509.1 L501.6 1500.9 L503.0 1487.1 L500.3 1474.8 L497.5 1462.4 L498.9 1448.7 L502.1 1482.3 L500.4 1475.4 L498.7 1468.6 L497.8 1461.7 L498.7 1454.8 L499.5 1448.0 L502.1 1443.7 L507.3 1439.4 L511.6 1435.9 L510.7 1429.1 L514.1 1427.4 L520.1 1425.6 L526.2 1423.1 L528.7 1419.6 L529.6 1414.5 L534.7 1413.6 L539.9 1412.8Z" fill="#FFC0F0" stroke="#333333" stroke-width="1.15" stroke-linejoin="round"/>
<path d="M237.1 1405.5 L248.1 1400.1 L255.0 1405.5 L261.9 1411.0 L267.4 1406.9 L272.9 1400.1 L281.1 1394.6 L289.3 1391.8 L294.8 1395.9 L305.8 1397.3 L316.8 1394.6 L322.3 1389.1 L325.1 1384.9 L333.3 1386.3 L340.2 1389.1 L347.0 1391.8 L349.8 1401.4 L355.3 1409.7 L362.1 1417.9 L364.9 1426.2 L363.5 1434.4 L369.0 1439.9 L374.5 1448.1 L377.3 1456.4 L378.6 1466.0 L366.3 1470.1 L358.0 1474.2 L356.6 1479.7 L349.8 1482.5 L342.9 1475.6 L333.3 1471.5 L323.7 1471.5 L316.8 1472.9 L308.6 1468.7 L301.7 1472.9 L300.3 1479.7 L294.8 1483.8 L289.3 1488.0 L281.1 1492.1 L275.6 1488.0 L271.5 1479.7 L267.4 1471.5 L264.6 1464.6 L257.7 1466.0 L250.9 1464.6 L246.8 1456.4 L245.4 1448.1 L242.6 1439.9 L244.0 1428.9 L241.3 1417.9 L237.1 1412.4Z" fill="#FFC0F0" stroke="#333333" stroke-width="1.15" stroke-linejoin="round"/>
<path d="M205.5 1492.1 L215.2 1496.2 L220.7 1503.1 L228.9 1505.8 L233.0 1514.1 L230.3 1522.3 L226.2 1526.4 L222.0 1527.8 L216.5 1529.2 L209.7 1519.6 L204.2 1509.9 L202.0 1499.0Z" fill="#FFC0F0" stroke="#333333" stroke-width="1.15" stroke-linejoin="round"/>
<path d="M245.4 1549.8 L248.1 1545.7 L252.3 1549.8 L255.0 1555.3 L261.9 1558.0 L267.4 1553.9 L271.5 1547.0 L278.4 1542.9 L283.8 1547.0 L288.0 1555.3 L294.8 1560.8 L294.8 1577.3 L292.1 1593.7 L283.8 1604.7 L279.7 1624.0 L278.4 1640.4 L261.9 1641.8 L250.9 1634.9 L246.8 1613.0 L242.6 1602.0 L239.9 1589.6 L241.3 1582.7 L239.9 1574.5 L242.6 1566.3 L246.8 1560.8 L245.4 1553.9Z" fill="#FFC0F0" stroke="#333333" stroke-width="1.15" stroke-linejoin="round"/>
<path d="M808.8 1202.8 L806.0 1214.8 L802.6 1221.7 L806.0 1228.6 L800.9 1242.3 L792.3 1249.2 L778.6 1254.3 L764.8 1257.8 L751.1 1264.6 L744.2 1269.8 L742.5 1283.5 L735.6 1293.8 L740.8 1305.8 L754.5 1311.0 L770.0 1319.6 L775.1 1328.2 L787.2 1333.3 L799.2 1335.0 L806.0 1345.3 L807.8 1359.1 L812.9 1369.4 L826.6 1374.5 L837.0 1383.1 L850.7 1390.0 L862.7 1396.8 L871.3 1407.1 L881.6 1410.6 L895.3 1408.9 L909.1 1405.4 L915.9 1414.0 L929.7 1420.9 L940.0 1427.7 L947.5 1435.3 L957.1 1424.3 L962.3 1410.6 L960.6 1393.4 L970.9 1379.7 L969.2 1371.1 L960.6 1365.9 L957.1 1352.2 L952.0 1335.0 L948.6 1317.9 L946.8 1297.3 L953.7 1280.1 L958.9 1269.8 L957.1 1256.0 L950.3 1250.9 L938.3 1245.7 L934.8 1237.2 L940.0 1228.6 L950.3 1223.4 L953.7 1211.4 L950.3 1201.1 L957.1 1187.4 L955.4 1177.1 L946.8 1168.5 L950.3 1158.2 L952.0 1156.5 L952.0 1118.7 L819.8 1118.7 L819.8 1197.7 L814.6 1201.1Z" fill="#3DF5C0" stroke="#333333" stroke-width="1.15" stroke-linejoin="round"/>
<path d="M651.7 1177.2 L662.0 1178.1 L672.3 1179.8 L682.6 1178.9 L688.6 1183.2 L696.3 1189.2 L704.9 1196.1 L713.5 1202.1 L722.1 1208.1 L730.0 1213.3 L751.1 1227.9 L771.7 1233.0 L785.4 1227.9 L799.2 1221.0 L807.8 1219.3 L806.0 1214.8 L802.6 1221.7 L806.0 1228.6 L800.9 1242.3 L792.3 1249.2 L778.6 1254.3 L764.8 1257.8 L751.1 1264.6 L744.2 1269.8 L730.5 1273.2 L718.5 1271.5 L709.9 1278.4 L703.0 1287.0 L692.7 1297.3 L685.9 1307.6 L682.4 1317.9 L677.3 1328.2 L666.1 1336.4 L662.7 1338.9 L658.4 1343.2 L654.1 1350.1 L651.5 1357.0 L648.9 1362.1 L644.6 1367.3 L639.5 1371.6 L634.3 1374.1 L630.0 1379.3 L627.5 1386.2 L624.9 1393.0 L625.7 1399.9 L622.3 1405.0 L617.2 1408.5 L612.0 1412.8 L608.6 1417.1 L603.4 1417.9 L600.0 1415.3 L594.8 1417.9 L589.7 1421.4 L584.5 1423.9 L580.2 1427.4 L576.8 1432.5 L572.5 1437.7 L569.1 1439.4 L565.6 1436.8 L563.1 1430.8 L557.9 1427.4 L555.3 1421.4 L550.2 1417.1 L545.0 1411.9 L541.6 1408.5 L540.7 1402.5 L545.0 1399.9 L550.2 1396.5 L553.6 1391.3 L557.9 1386.2 L561.4 1379.3 L563.1 1372.4 L563.1 1365.5 L565.6 1362.1 L568.2 1355.2 L570.8 1348.4 L571.7 1341.5 L575.9 1338.1 L581.1 1334.6 L586.2 1330.4 L585.4 1324.3 L583.7 1318.3 L579.4 1312.3 L578.5 1305.5 L577.7 1310.6 L572.5 1313.2 L567.4 1314.0 L563.1 1310.6 L557.1 1308.9 L551.9 1306.3 L546.8 1307.2 L541.6 1310.6 L537.3 1312.3 L538.2 1303.7 L535.6 1296.9 L534.7 1290.0 L537.5 1293.1 L541.0 1288.0 L546.1 1282.8 L549.5 1275.9 L553.8 1270.8 L559.0 1269.9 L564.1 1270.8 L570.1 1269.1 L571.9 1263.9 L576.2 1260.5 L582.2 1255.3 L587.3 1251.1 L592.5 1246.8 L591.6 1241.6 L586.5 1238.2 L580.4 1239.0 L576.2 1243.3 L573.6 1240.7 L567.6 1239.9 L566.7 1233.9 L570.1 1229.6 L573.6 1223.6 L578.7 1222.7 L582.2 1219.3 L581.3 1214.1 L585.6 1209.0 L588.2 1203.8 L586.5 1197.0 L583.9 1190.1 L587.3 1185.8 L593.3 1189.2 L598.5 1193.5 L603.6 1198.7 L608.8 1205.5 L615.6 1207.3 L622.5 1210.7 L628.5 1215.9 L632.8 1210.7 L634.5 1202.1 L631.1 1195.2 L633.7 1190.1 L638.0 1183.2 L643.1 1176.4Z" fill="#3DF5C0" stroke="#333333" stroke-width="1.15" stroke-linejoin="round"/>
<path d="M418.5 1173.6 L421.9 1174.4 L427.1 1176.2 L432.2 1173.6 L435.6 1168.4 L439.1 1164.1 L444.2 1159.8 L450.2 1157.3 L454.5 1153.0 L459.7 1151.3 L465.7 1153.8 L471.7 1155.5 L476.9 1157.3 L482.0 1159.8 L484.6 1164.1 L482.0 1169.3 L479.4 1174.4 L476.9 1179.6 L480.0 1193.5 L483.4 1197.8 L487.7 1202.1 L492.9 1209.0 L498.0 1211.6 L501.5 1215.9 L504.0 1221.0 L507.5 1225.3 L512.6 1228.7 L517.8 1229.6 L521.2 1233.0 L524.6 1239.9 L529.8 1243.3 L534.1 1239.9 L535.8 1245.0 L538.4 1251.9 L540.1 1257.9 L536.7 1263.1 L531.5 1266.5 L526.4 1269.1 L523.8 1272.5 L525.5 1275.9 L522.1 1279.4 L518.6 1282.8 L516.1 1288.0 L516.9 1293.1 L514.3 1297.4 L510.9 1300.8 L505.8 1299.1 L500.6 1301.7 L495.5 1303.4 L490.3 1305.1 L485.2 1303.4 L480.0 1305.1 L477.3 1294.6 L469.0 1295.9 L458.0 1294.6 L453.9 1284.9 L449.8 1275.3 L442.9 1268.5 L433.3 1263.0 L427.8 1257.5 L445.1 1280.0 L442.5 1274.0 L439.9 1268.9 L435.6 1267.2 L430.5 1263.7 L427.1 1260.3 L432.2 1256.9 L437.4 1253.4 L444.2 1250.8 L451.1 1245.7 L448.5 1241.4 L446.8 1234.5 L445.9 1227.7 L442.5 1222.5 L437.4 1219.1 L432.2 1215.6 L427.9 1212.2 L427.9 1205.3 L423.6 1201.9 L418.5 1198.5 L418.5 1186.5Z" fill="#3DF5C0" stroke="#333333" stroke-width="1.15" stroke-linejoin="round"/>
<path d="M367.0 1131.5 L373.8 1129.8 L380.7 1128.9 L387.6 1131.5 L392.7 1134.9 L397.9 1136.7 L403.0 1135.8 L406.5 1141.8 L407.3 1148.7 L411.6 1152.1 L413.3 1159.0 L414.2 1165.9 L416.8 1172.7 L415.9 1179.6 L418.5 1186.5 L418.5 1198.5 L413.3 1195.0 L407.3 1191.6 L403.0 1189.9 L398.7 1186.5 L396.2 1181.3 L391.0 1178.7 L385.9 1179.6 L380.7 1181.3 L375.5 1183.0 L372.1 1178.7 L367.8 1175.3 L361.8 1173.6 L356.7 1171.0 L352.4 1165.9 L351.5 1160.7 L355.8 1157.3 L360.1 1152.1 L364.4 1147.0 L366.1 1140.1Z" fill="#3DF5C0" stroke="#333333" stroke-width="1.15" stroke-linejoin="round"/>
<path d="M302.8 1345.4 L306.9 1337.1 L312.4 1331.6 L317.9 1327.5 L323.4 1333.0 L327.5 1339.9 L333.0 1346.8 L334.4 1352.3 L339.9 1352.3 L342.6 1361.9 L345.4 1372.9 L346.8 1383.8 L346.8 1392.1 L338.5 1389.3 L328.9 1386.6 L320.7 1389.3 L312.4 1394.8 L304.2 1397.6 L295.9 1393.5 L290.4 1383.8 L288.2 1372.9 L291.8 1367.4 L295.9 1360.5 L300.1 1353.6Z" fill="#3DF5C0" stroke="#333333" stroke-width="1.15" stroke-linejoin="round"/>
<path d="M418.2 1383.8 L425.1 1379.7 L430.5 1378.4 L434.7 1372.9 L438.8 1378.4 L444.3 1385.2 L452.5 1389.3 L463.5 1394.8 L466.3 1405.8 L467.6 1414.1 L460.8 1419.6 L452.5 1416.8 L447.0 1411.3 L438.8 1408.6 L433.3 1414.1 L427.8 1422.3 L425.1 1425.1 L419.6 1419.6 L408.6 1412.7 L414.1 1405.8 L416.8 1394.8Z" fill="#3DF5C0" stroke="#333333" stroke-width="1.15" stroke-linejoin="round"/>
<path d="M441.2 1477.5 L448.1 1467.9 L457.7 1461.0 L468.7 1456.9 L479.7 1450.1 L486.5 1443.2 L492.0 1437.7 L496.2 1444.6 L498.9 1448.7 L497.5 1462.4 L500.3 1474.8 L503.0 1487.1 L501.6 1500.9 L505.8 1509.1 L509.9 1517.4 L508.5 1528.4 L512.6 1533.8 L520.9 1538.0 L529.1 1543.5 L534.6 1539.3 L540.1 1535.2 L548.4 1539.3 L553.8 1544.8 L558.0 1553.1 L559.3 1572.3 L570.3 1594.3 L548.4 1599.8 L520.9 1577.8 L504.4 1561.3 L482.4 1550.3 L463.2 1542.1 L454.9 1511.9 L438.5 1484.4Z" fill="#3DF5C0" stroke="#333333" stroke-width="1.15" stroke-linejoin="round"/>
<path d="M608.8 1506.4 L617.0 1498.1 L622.5 1492.6 L625.3 1483.0 L629.4 1474.8 L636.3 1472.0 L644.5 1476.2 L650.0 1481.6 L654.1 1484.4 L661.0 1481.6 L665.1 1480.3 L666.5 1489.9 L670.6 1498.1 L676.1 1505.0 L683.0 1513.2 L688.5 1520.1 L692.6 1528.4 L696.7 1536.6 L699.5 1550.3 L619.8 1542.1 L617.0 1525.6 L621.2 1517.4 L617.0 1511.9Z" fill="#3DF5C0" stroke="#333333" stroke-width="1.15" stroke-linejoin="round"/>
<path d="M758.0 1479.0 L759.7 1487.6 L768.3 1494.4 L778.6 1499.6 L792.3 1501.3 L809.5 1497.9 L807.8 1513.3 L811.2 1530.5 L809.5 1544.2 L802.6 1551.1 L806.0 1558.0 L792.3 1563.1 L787.2 1571.7 L788.9 1582.0 L785.4 1592.3 L787.2 1602.6 L787.2 1619.8 L716.8 1619.8 L716.8 1582.0 L725.3 1571.7 L727.1 1561.4 L725.3 1552.8 L732.2 1537.4 L740.8 1525.3 L749.4 1516.8 L744.2 1509.9 L740.8 1503.0 L747.7 1492.7 L754.5 1482.4Z" fill="#3DF5C0" stroke="#333333" stroke-width="1.15" stroke-linejoin="round"/>
<path d="M809.5 1637.0 L823.2 1633.5 L840.4 1628.4 L857.6 1623.2 L862.7 1628.4 L871.3 1640.4 L885.0 1638.7 L902.2 1637.0 L919.4 1635.2 L929.7 1640.4 L938.3 1650.7 L943.4 1664.4 L943.4 1681.6 L938.3 1691.9 L926.2 1695.3 L915.9 1702.2 L905.6 1707.3 L895.3 1712.5 L891.9 1715.9 L891.9 1729.7 L840.4 1729.7 L806.0 1709.1 L802.6 1640.4Z" fill="#3DF5C0" stroke="#333333" stroke-width="1.15" stroke-linejoin="round"/>
<path d="M1367.4 1494.6 L1388.0 1492.9 L1394.9 1501.5 L1401.8 1511.8 L1410.4 1518.7 L1419.0 1530.7 L1424.1 1539.3 L1432.7 1534.1 L1441.3 1541.0 L1449.9 1542.7 L1453.3 1553.0 L1458.4 1563.3 L1460.2 1575.3 L1467.0 1587.4 L1480.8 1604.5 L1480.8 1724.7 L1309.1 1765.9 L1274.7 1759.1 L1278.2 1736.7 L1286.7 1724.7 L1281.6 1714.4 L1285.0 1702.4 L1298.8 1695.5 L1312.5 1687.0 L1322.8 1676.6 L1333.1 1666.3 L1346.8 1656.0 L1360.6 1649.2 L1353.7 1635.4 L1352.0 1626.9 L1360.6 1614.8 L1370.9 1601.1 L1382.9 1590.8 L1386.3 1582.2 L1376.0 1577.1 L1367.4 1566.8 L1360.6 1553.0 L1355.8 1540.0 L1357.1 1537.6 L1369.2 1532.4 L1377.7 1525.5 L1374.3 1517.0 L1365.7 1504.9Z" fill="#3DF5C0" stroke="#333333" stroke-width="1.15" stroke-linejoin="round"/>
<path d="M1694.5 1592.5 L1687.0 1595.9 L1676.6 1601.1 L1662.9 1597.7 L1649.2 1599.4 L1640.6 1606.2 L1635.4 1621.7 L1632.0 1642.3 L1652.6 1659.5 L1676.6 1635.4 L1697.3 1604.5Z" fill="#3DF5C0" stroke="#333333" stroke-width="1.15" stroke-linejoin="round"/>
<path d="M1187.2 1141.9 L1188.9 1152.2 L1197.5 1164.2 L1206.0 1176.2 L1209.5 1190.0 L1218.1 1198.6 L1217.9 1200.0 L1211.0 1210.3 L1202.4 1218.9 L1199.0 1237.8 L1190.4 1242.9 L1174.9 1253.2 L1181.8 1267.0 L1185.2 1285.9 L1187.0 1309.9 L1178.4 1316.8 L1187.0 1320.2 L1190.4 1337.4 L1197.3 1354.5 L1195.5 1364.8 L1190.4 1370.0 L1192.1 1380.3 L1204.1 1382.0 L1221.3 1383.7 L1224.7 1388.9 L1221.3 1397.5 L1231.6 1399.2 L1238.5 1409.5 L1241.9 1423.2 L1248.8 1430.1 L1252.2 1447.3 L1260.8 1455.8 L1257.3 1474.7 L1255.6 1495.3 L1260.8 1507.3 L1271.1 1507.3 L1279.7 1498.8 L1293.4 1493.6 L1298.6 1502.2 L1303.7 1493.6 L1310.6 1481.6 L1315.7 1467.9 L1322.6 1454.1 L1338.0 1452.4 L1348.4 1457.6 L1353.5 1467.9 L1365.5 1464.4 L1375.8 1469.6 L1381.0 1481.6 L1387.8 1493.6 L1394.9 1501.5 L1401.8 1511.8 L1408.7 1517.0 L1415.5 1511.8 L1429.3 1508.4 L1446.4 1510.1 L1463.6 1508.4 L1477.3 1513.5 L1491.1 1511.1 L1500.0 1509.1 L1501.5 1511.8 L1511.8 1506.7 L1523.8 1498.1 L1534.1 1491.2 L1542.7 1482.6 L1558.2 1474.4 L1558.2 1474.3 L1554.7 1470.9 L1556.5 1453.7 L1549.6 1443.4 L1541.0 1436.5 L1542.7 1422.8 L1534.1 1415.9 L1537.6 1402.2 L1535.9 1388.5 L1542.7 1378.2 L1558.2 1371.3 L1559.9 1357.6 L1573.6 1347.3 L1582.2 1333.5 L1575.3 1326.6 L1568.5 1312.9 L1563.3 1299.2 L1565.0 1278.6 L1559.9 1264.8 L1561.6 1259.7 L1580.5 1256.2 L1587.4 1247.7 L1597.7 1244.2 L1601.1 1232.2 L1594.2 1218.5 L1582.2 1209.9 L1577.1 1196.2 L1577.1 1182.4 L1590.8 1173.8 L1583.9 1163.5 L1590.8 1151.5 L1599.4 1146.4 L1601.1 1137.8 L1609.7 1130.9 L1609.7 1113.7 L1602.8 1100.0 L1592.5 1096.8 L1589.1 1081.4 L1599.4 1069.4 L1606.2 1059.1 L1607.3 1048.1 L1597.7 1038.5 L1578.8 1036.7 L1571.9 1024.7 L1568.5 1011.0 L1577.1 995.5 L1566.8 983.5 L1551.3 976.6 L1551.3 956.0 L1450.0 990.4 L1500.0 970.2 L1412.1 1021.7 L1309.1 1073.2 L1206.0 1090.4 L1200.9 1116.1 L1192.3 1124.7Z" fill="#FF85E2" stroke="#333333" stroke-width="1.15" stroke-linejoin="round"/>
<path d="M1601.1 1232.2 L1597.7 1244.2 L1587.4 1247.7 L1580.5 1256.2 L1561.6 1259.7 L1559.9 1264.8 L1565.0 1278.6 L1563.3 1299.2 L1568.5 1312.9 L1575.3 1326.6 L1582.2 1333.5 L1573.6 1347.3 L1559.9 1357.6 L1558.2 1371.3 L1542.7 1378.2 L1535.9 1388.5 L1537.6 1402.2 L1534.1 1415.9 L1542.7 1422.8 L1541.0 1436.5 L1549.6 1443.4 L1556.5 1453.7 L1554.7 1470.9 L1558.2 1474.3 L1558.2 1474.4 L1570.2 1465.5 L1582.2 1463.7 L1582.2 1472.3 L1578.8 1487.8 L1573.6 1501.5 L1571.9 1513.5 L1582.2 1517.0 L1594.2 1523.8 L1604.5 1517.0 L1611.4 1506.7 L1621.7 1496.4 L1632.0 1491.2 L1637.2 1501.5 L1642.3 1513.5 L1633.7 1518.7 L1625.1 1522.1 L1628.6 1532.4 L1621.7 1542.7 L1618.3 1556.5 L1613.1 1563.3 L1614.8 1580.5 L1628.6 1589.1 L1635.4 1597.7 L1640.6 1606.2 L1649.2 1599.4 L1662.9 1597.7 L1676.6 1601.1 L1687.0 1595.9 L1694.5 1592.5 L1695.5 1599.4 L1704.1 1614.8 L1706.9 1633.7 L1711.0 1618.3 L1724.7 1611.4 L1735.0 1606.2 L1741.9 1595.9 L1750.5 1580.5 L1741.9 1578.8 L1733.3 1573.6 L1741.9 1559.9 L1753.9 1563.3 L1761.8 1570.2 L1779.7 1570.2 L1779.7 1450.0 L1759.1 1409.1 L1690.4 1391.9 L1690.4 1264.8 L1664.6 1261.4 L1656.0 1254.5 L1645.7 1258.0 L1637.2 1254.5 L1633.7 1237.4 L1623.4 1228.8 L1611.4 1225.3Z" fill="#FF85E2" stroke="#333333" stroke-width="1.15" stroke-linejoin="round"/>
<path d="M205.5 1445.4 L208.3 1450.9 L212.4 1456.4 L217.9 1460.5 L222.0 1466.0 L223.4 1472.9 L220.7 1479.7 L215.2 1482.5 L209.7 1486.6 L204.2 1488.0 L201.4 1482.5 L204.2 1477.0 L209.7 1474.2 L213.8 1468.7 L212.4 1461.9 L208.3 1457.7 L206.4 1452.3Z" fill="#FF85E2" stroke="#333333" stroke-width="1.15" stroke-linejoin="round"/>
<path d="M222.0 1527.8 L226.2 1525.6 L233.0 1527.8 L239.9 1533.3 L245.4 1538.8 L248.1 1545.7 L245.4 1549.8 L238.5 1549.8 L231.6 1547.0 L226.2 1542.9 L223.4 1536.0Z" fill="#FF85E2" stroke="#333333" stroke-width="1.15" stroke-linejoin="round"/>
<path d="M431.4 1085.2 L433.1 1097.2 L433.9 1109.2 L434.8 1121.2 L437.4 1128.1 L442.5 1129.8 L447.7 1131.5 L450.2 1134.9 L452.0 1129.8 L454.5 1131.5 L458.0 1136.7 L461.4 1141.8 L464.0 1147.0 L469.1 1151.3 L473.4 1153.8 L478.6 1157.3 L482.0 1159.8 L484.6 1164.1 L488.9 1162.4 L494.0 1159.0 L497.5 1153.8 L500.0 1148.7 L503.5 1144.4 L504.3 1138.4 L502.6 1133.2 L506.0 1128.9 L510.3 1124.6 L513.8 1118.6 L505.5 1129.0 L508.2 1124.8 L512.4 1120.7 L515.1 1116.6 L520.6 1118.0 L524.0 1112.5 L530.9 1115.2 L530.2 1097.4 L541.2 1091.9 L560.4 1090.5 L564.6 1069.9 L561.8 1056.2 L562.5 1042.4 L557.7 1043.8 L552.9 1043.1 L550.1 1039.7 L552.2 1032.8 L550.8 1027.3 L547.4 1021.8 L544.0 1017.0 L534.9 1027.3 L526.7 1032.8 L515.7 1036.9 L504.7 1045.2 L493.7 1056.2 L484.1 1064.4 L478.6 1078.1 L471.8 1085.0 L458.0 1086.9 L444.3 1086.9 L430.5 1087.7Z" fill="#00AA8C" stroke="#333333" stroke-width="1.15" stroke-linejoin="round"/>
<path d="M311.8 1319.1 L316.1 1315.6 L321.2 1312.2 L325.5 1307.9 L328.9 1305.3 L333.2 1307.9 L337.5 1308.8 L341.8 1307.9 L347.0 1307.1 L348.7 1311.4 L351.3 1315.6 L354.7 1318.2 L353.8 1323.4 L351.3 1327.7 L347.0 1331.1 L342.7 1333.7 L341.0 1338.0 L340.1 1343.1 L341.0 1349.1 L338.4 1352.6 L334.1 1351.7 L331.5 1347.4 L328.9 1343.1 L326.4 1338.8 L323.8 1334.5 L321.2 1330.2 L318.6 1325.9 L314.3 1323.4Z" fill="#00AA8C" stroke="#333333" stroke-width="1.15" stroke-linejoin="round"/>
<path d="M315.2 1236.7 L318.6 1233.2 L322.9 1231.5 L326.4 1234.9 L328.9 1239.2 L334.9 1240.1 L341.8 1239.2 L347.8 1241.0 L352.1 1244.4 L355.5 1248.7 L358.1 1253.8 L357.3 1259.8 L358.1 1264.1 L353.8 1267.6 L348.7 1269.3 L345.2 1271.9 L340.1 1268.4 L334.9 1269.3 L329.8 1267.6 L325.5 1270.1 L320.4 1267.6 L315.2 1265.0 L311.8 1260.7 L310.9 1255.5 L313.5 1250.4 L315.2 1244.4Z" fill="#BF00BF" stroke="#333333" stroke-width="1.15" stroke-linejoin="round"/>
<path d="M267.1 1315.2 L272.6 1309.7 L280.8 1313.8 L289.1 1320.7 L297.3 1324.8 L301.4 1334.4 L302.8 1345.4 L300.1 1353.6 L295.9 1360.5 L291.8 1367.4 L287.7 1371.5 L283.6 1372.9 L279.5 1353.6 L274.0 1342.6 L268.5 1334.4 L264.3 1324.8Z" fill="#BF00BF" stroke="#333333" stroke-width="1.15" stroke-linejoin="round"/>
<path d="M359.8 1253.0 L364.1 1251.3 L369.3 1250.4 L373.6 1251.3 L376.2 1248.7 L377.9 1252.1 L378.7 1257.3 L376.2 1260.7 L371.0 1259.8 L366.7 1260.7 L362.4 1259.8 L359.8 1257.3Z" fill="#88006A" stroke="#333333" stroke-width="1.15" stroke-linejoin="round"/>
<path d="M1544.4 810.1 L1551.3 808.4 L1556.5 817.0 L1558.2 835.9 L1553.0 834.1 L1544.4 823.8Z" fill="#FFC0F0"/>
<path d="M1079.0 965.0 L1085.9 977.1 L1087.6 989.1 L1073.8 990.8 L1067.0 985.6 L1065.2 977.1 L1072.1 968.5Z" fill="#FFC0F0"/>
<path d="M1073.8 994.2 L1087.6 992.5 L1097.9 999.4 L1097.9 1014.8 L1094.4 1023.4 L1084.1 1021.7 L1077.3 1016.6 L1072.1 1006.2Z" fill="#FFC0F0"/>
<path d="M1060.1 994.2 L1068.7 999.4 L1067.0 1002.8 L1060.1 1001.1Z" fill="#FFC0F0"/>
<path d="M1109.9 1011.4 L1118.5 1013.1 L1127.1 1026.9 L1123.6 1033.7 L1109.9 1038.9 L1101.3 1044.0 L1099.6 1038.9 L1104.7 1025.1Z" fill="#FFC0F0"/>
<path d="M1319.4 1006.2 L1331.4 1002.8 L1340.0 995.9 L1346.8 1001.1 L1353.7 1004.5 L1362.3 1008.0 L1357.1 1014.8 L1348.6 1021.7 L1345.1 1032.0 L1333.1 1032.0 L1324.5 1025.1 L1317.7 1014.8Z" fill="#FF85E2"/>
<path d="M1343.4 990.8 L1357.1 989.1 L1364.0 997.7 L1358.9 1002.8 L1348.6 1001.1Z" fill="#FF85E2"/>
<path d="M1365.7 983.9 L1376.0 975.3 L1388.0 970.2 L1393.2 975.3 L1389.8 983.9 L1377.7 989.1 L1369.2 990.8Z" fill="#FF85E2"/>
<path d="M1372.6 1035.4 L1381.2 1032.0 L1393.2 1037.2 L1388.0 1045.7 L1376.0 1049.2 L1370.9 1042.3Z" fill="#FF85E2"/>
<path d="M1360.6 1033.7 L1365.7 1037.2 L1364.0 1040.6Z" fill="#FF85E2"/>
<path d="M706.3 1121.2 L705.6 1124.2 L703.6 1126.8 L700.6 1128.5 L697.0 1129.1 L693.4 1128.5 L690.4 1126.8 L688.4 1124.2 L687.7 1121.2 L688.4 1118.2 L690.4 1115.6 L693.4 1113.9 L697.0 1113.3 L700.6 1113.9 L703.6 1115.6 L705.6 1118.2Z" fill="#FFC0F0"/>
<path d="M1705.6 1398.0 L1711.6 1400.6 L1716.8 1407.5 L1720.2 1412.6 L1725.3 1416.1 L1732.2 1419.5 L1737.4 1422.9 L1740.8 1428.1 L1745.9 1433.2 L1751.1 1438.4 L1756.2 1444.4 L1761.4 1448.7 L1767.4 1453.0 L1773.4 1459.0 L1780.3 1464.1 L1787.2 1469.3 L1794.0 1474.4 L1800.9 1477.9 L1807.8 1479.6 L1813.8 1483.0 L1806.0 1481.3 L1799.2 1480.4 L1792.3 1483.0 L1788.0 1486.5 L1787.2 1493.3 L1788.9 1501.9 L1791.4 1510.5 L1795.7 1517.4 L1799.2 1523.4 L1805.2 1527.7 L1811.2 1531.1 L1818.1 1532.8 L1824.9 1534.5 L1830.1 1538.0 L1834.4 1544.8 L1828.4 1540.5 L1822.4 1539.7 L1817.2 1543.1 L1815.5 1550.0 L1818.1 1556.9 L1819.8 1564.6 L1815.5 1560.3 L1811.2 1555.1 L1807.8 1548.3 L1803.5 1539.7 L1799.2 1532.8 L1794.0 1525.9 L1788.9 1519.9 L1783.7 1513.9 L1778.6 1507.1 L1773.4 1500.2 L1768.3 1493.3 L1763.1 1486.5 L1758.0 1480.4 L1752.8 1473.6 L1749.4 1467.6 L1744.2 1462.4 L1737.4 1459.0 L1732.2 1455.5 L1727.9 1451.3 L1723.6 1445.2 L1720.2 1438.4 L1716.8 1431.5 L1712.5 1424.6 L1714.2 1420.4 L1718.5 1419.5 L1719.3 1414.3 L1715.0 1410.9 L1712.5 1405.8 L1708.2 1403.2Z" fill="#FF85E2"/>
<path d="M156.1 1350.6 L163.0 1354.7 L171.2 1358.8 L176.7 1360.2 L180.8 1356.1 L182.2 1365.7 L183.6 1376.7 L180.8 1384.9 L182.2 1393.2 L186.3 1400.1 L191.8 1405.5 L193.2 1412.4 L187.7 1412.4 L182.2 1406.9 L178.1 1401.4 L174.0 1397.3 L168.5 1393.2 L163.0 1389.1 L156.1 1389.1 L152.0 1383.6 L152.0 1376.7 L156.1 1371.2 L158.8 1363.0 L156.1 1356.1Z" fill="#FFC0F0"/>
<path d="M1759.1 946.4 L1746.0 947.5 L1743.6 962.9 L1741.9 987.0 L1721.3 993.8 L1716.1 999.0 L1705.8 981.8 L1690.4 985.2 L1678.4 995.5 L1669.8 1009.3 L1657.8 1023.0 L1660.2 1030.9" fill="none" stroke="#333333" stroke-width="1.1" stroke-linejoin="round"/>
<path d="M1204.1 1393.0 L1202.4 1406.0 L1205.8 1419.8 L1207.6 1430.1 L1204.1 1447.3 L1193.8 1461.0 L1188.7 1474.7 L1193.8 1485.0 L1204.1 1491.9 L1199.0 1502.2 L1204.1 1515.9 L1195.5 1531.4 L1187.2 1523.8 L1176.9 1517.0 L1166.6 1522.1 L1168.3 1534.1 L1159.7 1541.0 L1151.1 1551.3 L1147.7 1566.8 L1140.8 1553.0 L1132.2 1553.0 L1127.1 1559.9 L1108.2 1561.6 L1103.0 1573.6 L1101.3 1582.2 L1108.2 1587.4 L1101.3 1601.1 L1092.7 1611.4 L1091.0 1635.4 L1079.0 1647.5 L1094.4 1664.6 L1106.5 1671.5 L1118.5 1678.4 L1128.8 1683.5" fill="none" stroke="#333333" stroke-width="1.1" stroke-linejoin="round"/>
<path d="M1094.4 1664.6 L1079.0 1669.8 L1063.5 1673.2 L1054.9 1687.0 L1044.6 1699.0 L1034.3 1707.6 L1020.6 1709.3 L1010.3 1707.6 L1000.0 1705.8 L996.6 1702.2" fill="none" stroke="#333333" stroke-width="1.1" stroke-linejoin="round"/>
<path d="M938.3 1470.4 L940.0 1484.1 L938.3 1492.7 L957.1 1496.2 L969.2 1503.0 L974.3 1516.8 L988.0 1520.2 L984.6 1530.5 L976.0 1537.4 L977.7 1547.7 L991.5 1552.8 L988.0 1564.8 L981.2 1575.1 L979.5 1582.0" fill="none" stroke="#333333" stroke-width="1.1" stroke-linejoin="round"/>
<path d="M950.0 1497.0 L950.3 1497.4" fill="none" stroke="#333333" stroke-width="1.1" stroke-linejoin="round"/>
<path d="M578.5 1305.5 L582.8 1302.0 L589.7 1303.7 L594.8 1308.9 L600.0 1314.0 L606.9 1318.3 L613.7 1321.8 L622.3 1322.6 L629.2 1326.1 L636.0 1323.5 L642.9 1326.9 L649.8 1331.2 L656.6 1335.5 L661.8 1337.2 L666.1 1336.4" fill="none" stroke="#333333" stroke-width="1.1" stroke-linejoin="round"/>
<path d="M670.4 1335.0 L677.3 1345.3 L685.9 1355.6 L692.7 1369.4 L690.0 1381.4" fill="none" stroke="#333333" stroke-width="1.1" stroke-linejoin="round"/>
<path d="M697.9 1449.8 L713.3 1446.4 L737.4 1441.2 L752.8 1437.8 L761.4 1444.6 L771.7 1451.5 L782.0 1468.7 L787.2 1480.7 L802.6 1489.3 L809.5 1497.9" fill="none" stroke="#333333" stroke-width="1.1" stroke-linejoin="round"/>
<path d="M688.5 1380.0 L687.1 1391.0 L685.7 1407.5 L691.2 1421.2 L696.7 1434.9 L698.1 1451.4 L694.0 1459.7 L683.0 1462.4 L674.7 1465.2 L672.0 1473.4 L670.6 1481.6 L665.1 1480.3" fill="none" stroke="#333333" stroke-width="1.1" stroke-linejoin="round"/>
<path d="M589.6 1455.5 L596.4 1454.2 L603.3 1458.3 L611.5 1463.8 L619.8 1467.9 L625.3 1473.4 L629.4 1474.8" fill="none" stroke="#333333" stroke-width="1.1" stroke-linejoin="round"/>
<path d="M571.7 1439.1 L575.8 1444.6" fill="none" stroke="#333333" stroke-width="1.1" stroke-linejoin="round"/>
<path d="M903.9 1597.5 L915.9 1599.2 L921.1 1606.0 L919.4 1623.2 L921.1 1635.2" fill="none" stroke="#333333" stroke-width="1.1" stroke-linejoin="round"/>
<path d="M979.5 1616.3 L974.3 1626.6 L976.0 1640.4 L970.9 1643.8 L979.5 1647.3 L977.7 1661.0 L974.3 1674.7 L972.6 1688.5 L964.0 1691.9" fill="none" stroke="#333333" stroke-width="1.1" stroke-linejoin="round"/>
<path d="M943.4 1681.6 L950.3 1685.0 L960.6 1688.5 L964.0 1691.9 L957.1 1702.2 L955.4 1709.1 L964.0 1717.7 L972.6 1712.5" fill="none" stroke="#333333" stroke-width="1.1" stroke-linejoin="round"/>
<path d="M288.0 1437.1 L294.8 1434.4 L305.8 1433.0 L307.2 1420.7 L305.8 1412.4 L309.9 1409.7 L314.1 1404.2 L314.1 1395.9" fill="none" stroke="#333333" stroke-width="1.1" stroke-linejoin="round"/>
<path d="M288.0 1437.1 L286.6 1445.4 L289.3 1456.4 L290.7 1467.4 L301.7 1472.9" fill="none" stroke="#333333" stroke-width="1.1" stroke-linejoin="round"/>
<path d="M245.4 1448.1 L239.9 1461.9 L235.8 1467.4 L233.0 1478.4 L230.3 1492.1 L228.9 1505.8" fill="none" stroke="#333333" stroke-width="1.1" stroke-linejoin="round"/>
<path d="M235.8 1467.4 L245.4 1466.0 L255.0 1472.9 L261.9 1470.1 L267.4 1471.5" fill="none" stroke="#333333" stroke-width="1.1" stroke-linejoin="round"/>
<path d="M271.5 1479.7 L274.2 1494.8 L272.9 1508.6 L277.0 1522.3 L281.1 1538.8 L278.4 1542.9" fill="none" stroke="#333333" stroke-width="1.1" stroke-linejoin="round"/>
<path d="M233.0 1514.1 L239.9 1519.6 L250.9 1527.8 L259.1 1538.8 L264.6 1549.8 L267.4 1553.9" fill="none" stroke="#333333" stroke-width="1.1" stroke-linejoin="round"/>
<path d="M322.3 1471.5 L325.1 1483.8 L322.3 1497.6 L326.4 1505.8 L322.3 1516.8 L319.6 1527.8 L311.3 1527.8 L309.9 1538.8 L308.6 1555.3" fill="none" stroke="#333333" stroke-width="1.1" stroke-linejoin="round"/>
<path d="M212.4 1417.9 L215.2 1428.9 L220.7 1437.1 L223.4 1448.1 L234.4 1456.4 L242.6 1439.9" fill="none" stroke="#333333" stroke-width="1.1" stroke-linejoin="round"/>
<path d="M255.0 1555.3 L252.3 1566.3 L248.1 1574.5 L244.0 1573.1" fill="none" stroke="#333333" stroke-width="1.1" stroke-linejoin="round"/>
<path d="M261.9 1558.0 L264.6 1569.0 L272.9 1571.8 L270.1 1580.0 L261.9 1585.5 L253.6 1586.9 L248.1 1602.0" fill="none" stroke="#333333" stroke-width="1.1" stroke-linejoin="round"/>
<path d="M358.1 1264.1 L357.3 1269.3 L358.1 1274.4 L360.7 1279.6 L362.4 1284.7 L361.6 1290.7" fill="none" stroke="#333333" stroke-width="1.1" stroke-linejoin="round"/>
<path d="M391.6 1257.3 L389.0 1260.7 L388.2 1265.9 L389.9 1271.0 L391.6 1276.2 L393.3 1281.3 L391.6 1286.5 L389.9 1291.6" fill="none" stroke="#333333" stroke-width="1.1" stroke-linejoin="round"/>
<path d="M426.8 1300.2 L431.1 1300.2 L434.5 1296.8 L439.7 1298.5 L444.8 1295.0 L449.1 1291.6 L453.4 1288.2" fill="none" stroke="#333333" stroke-width="1.1" stroke-linejoin="round"/>
<path d="M298.0 1231.5 L302.3 1235.8 L307.5 1236.7 L312.6 1235.8 L315.2 1236.7" fill="none" stroke="#333333" stroke-width="1.1" stroke-linejoin="round"/>
<path d="M315.2 1265.0 L310.9 1267.6 L305.8 1269.3 L301.5 1273.6 L297.2 1277.9 L292.0 1278.7 L286.9 1277.9 L280.0 1279.6" fill="none" stroke="#333333" stroke-width="1.1" stroke-linejoin="round"/>
<path d="M301.5 1273.6 L304.0 1279.6 L305.8 1286.5 L307.5 1293.3 L306.6 1300.2 L308.3 1307.1 L310.0 1313.1 L311.8 1319.1" fill="none" stroke="#333333" stroke-width="1.1" stroke-linejoin="round"/>
<path d="M325.5 1276.2 L321.2 1275.3 L316.1 1273.6 L310.9 1267.6" fill="none" stroke="#333333" stroke-width="1.1" stroke-linejoin="round"/>
<path d="M300.6 1325.9 L305.8 1322.5 L311.8 1319.1" fill="none" stroke="#333333" stroke-width="1.1" stroke-linejoin="round"/>
<path d="M354.7 1318.2 L359.8 1320.8 L364.1 1324.2 L365.9 1329.4 L369.3 1332.8 L373.6 1336.2 L377.9 1339.7 L383.9 1342.3" fill="none" stroke="#333333" stroke-width="1.1" stroke-linejoin="round"/>
<path d="M398.5 1308.8 L400.2 1315.6 L399.3 1322.5 L401.1 1327.7 L400.2 1331.1" fill="none" stroke="#333333" stroke-width="1.1" stroke-linejoin="round"/>
<path d="M341.0 1349.1 L345.2 1351.7 L350.4 1353.4 L355.5 1351.7 L360.7 1350.0 L365.9 1347.4 L371.0 1344.8 L376.2 1342.3 L381.3 1340.5 L383.9 1342.3" fill="none" stroke="#333333" stroke-width="1.1" stroke-linejoin="round"/>
<path d="M376.2 1342.3 L374.4 1350.0 L373.6 1356.9 L372.7 1363.7 L371.0 1370.6 L369.3 1380.0" fill="none" stroke="#333333" stroke-width="1.1" stroke-linejoin="round"/>
<path d="M393.3 1351.7 L391.6 1358.6 L392.5 1365.4 L394.2 1372.3 L395.0 1380.0" fill="none" stroke="#333333" stroke-width="1.1" stroke-linejoin="round"/>
<path d="M540.1 1257.9 L545.2 1260.5 L548.7 1263.9 L550.4 1269.1 L549.5 1275.9" fill="none" stroke="#333333" stroke-width="1.1" stroke-linejoin="round"/>
<path d="M490.3 1305.1 L494.6 1312.0 L498.9 1318.9 L496.3 1324.0 L490.3 1326.6 L485.2 1324.0 L480.0 1318.9" fill="none" stroke="#333333" stroke-width="1.1" stroke-linejoin="round"/>
<path d="M488.4 1304.6 L491.8 1310.6 L496.1 1315.8 L498.7 1320.9 L491.8 1322.6 L484.9 1324.3 L479.8 1326.9 L476.4 1331.2 L479.8 1336.4 L484.9 1339.8 L490.1 1341.5 L495.2 1344.9 L500.4 1348.4 L502.1 1355.2 L503.0 1362.1 L503.8 1369.0 L502.1 1375.9 L503.8 1382.7 L505.5 1387.9 L505.5 1393.9" fill="none" stroke="#333333" stroke-width="1.1" stroke-linejoin="round"/>
<path d="M476.4 1331.2 L471.2 1328.6 L465.2 1326.1 L460.0 1327.8 L456.6 1332.1 L454.9 1338.1 L452.3 1343.2 L447.2 1346.7 L443.7 1351.8 L439.4 1356.1 L436.9 1360.4 L437.7 1365.5 L440.3 1370.7 L443.7 1375.9 L447.2 1379.3 L452.3 1380.1 L455.8 1378.4 L457.5 1374.1 L461.8 1370.7 L466.9 1369.0 L472.9 1367.3 L478.9 1366.4 L484.9 1364.7 L490.1 1366.4 L495.2 1368.1 L502.1 1369.0" fill="none" stroke="#333333" stroke-width="1.1" stroke-linejoin="round"/>
<path d="M454.9 1338.1 L460.0 1341.5 L465.2 1346.7 L469.5 1352.7 L471.2 1358.7 L472.1 1365.5 L472.9 1367.3" fill="none" stroke="#333333" stroke-width="1.1" stroke-linejoin="round"/>
<path d="M466.1 1399.9 L471.2 1413.6 L476.4 1418.8 L481.5 1420.5 L484.9 1425.6 L486.7 1432.5 L490.1 1437.7" fill="none" stroke="#333333" stroke-width="1.1" stroke-linejoin="round"/>
<path d="M511.6 1397.3 L514.1 1403.3 L519.3 1406.8 L523.6 1412.8" fill="none" stroke="#333333" stroke-width="1.1" stroke-linejoin="round"/>
<path d="M591.4 1455.7 L597.4 1458.3 L603.4 1461.7 L610.3 1465.1 L617.2 1468.6 L622.3 1472.0 L625.7 1475.4" fill="none" stroke="#333333" stroke-width="1.1" stroke-linejoin="round"/>
<path d="M666.1 1336.4 L670.4 1341.5 L675.5 1346.7 L680.0 1350.1" fill="none" stroke="#333333" stroke-width="1.1" stroke-linejoin="round"/>
<path d="M451.1 1245.7 L456.2 1244.8 L460.5 1242.3 L465.7 1244.0 L470.0 1246.6 L475.1 1244.8 L476.0 1250.0 L478.6 1255.1 L482.0 1260.3 L487.2 1265.4 L490.6 1270.6 L495.7 1275.7 L497.5 1280.0 L492.1 1269.3 L496.3 1273.6 L503.2 1277.9 L510.1 1281.3 L518.7 1284.7" fill="none" stroke="#333333" stroke-width="1.1" stroke-linejoin="round"/>
<path d="M376.4 1098.9 L378.1 1107.5 L376.4 1116.1 L374.7 1124.6 L373.8 1129.8" fill="none" stroke="#333333" stroke-width="1.1" stroke-linejoin="round"/>
<path d="M351.5 1160.7 L346.4 1164.1 L343.8 1169.3 L342.9 1176.2 L338.6 1179.6 L332.6 1183.0 L330.0 1183.0" fill="none" stroke="#333333" stroke-width="1.1" stroke-linejoin="round"/>
<path d="M332.6 1183.0 L334.3 1189.9 L336.9 1196.8 L338.6 1203.6 L342.9 1207.9 L348.1 1210.5 L352.4 1212.2 L354.9 1217.4 L356.7 1224.2 L358.4 1229.4" fill="none" stroke="#333333" stroke-width="1.1" stroke-linejoin="round"/>
<path d="M330.0 1183.0 L325.8 1186.5 L320.6 1189.9 L315.5 1191.6 L310.3 1192.5 L306.9 1193.3" fill="none" stroke="#333333" stroke-width="1.1" stroke-linejoin="round"/>
<path d="M427.9 1212.2 L423.6 1213.9 L418.5 1217.4 L413.3 1219.1 L411.6 1225.9 L409.9 1232.8 L408.2 1238.0 L404.7 1242.3 L402.2 1246.6 L399.6 1251.7" fill="none" stroke="#333333" stroke-width="1.1" stroke-linejoin="round"/>
<path d="M399.6 1251.7 L404.7 1255.1 L409.9 1258.6 L416.8 1259.4 L423.6 1260.3 L427.1 1260.3" fill="none" stroke="#333333" stroke-width="1.1" stroke-linejoin="round"/>
</g>
<path d="M392.1 1076.8 L397.6 1080.9 L408.6 1080.9 L412.7 1085.0 L408.6 1090.5 L411.3 1101.5 L409.9 1112.5 L405.8 1120.7 L401.7 1119.3 L403.1 1109.7 L399.0 1098.7 L393.5 1089.1 L390.7 1082.3Z" fill="#222222"/>
<path d="M905.6 1142.7 L924.5 1142.0 L924.5 1153.0 L920.1 1164.0 L912.5 1168.5 L905.6 1175.3 L902.2 1187.4 L900.1 1201.1 L895.3 1215.5 L888.5 1225.8 L886.7 1235.4 L891.9 1237.2 L902.2 1238.9 L909.1 1247.5 L914.2 1259.5 L912.5 1273.2 L909.1 1283.5 L915.9 1288.7 L905.6 1287.0 L907.3 1280.1 L910.8 1269.8 L909.1 1256.0 L902.2 1245.7 L891.9 1244.0 L883.3 1247.5 L881.6 1259.5 L876.4 1271.5 L867.9 1280.1 L857.6 1287.0 L847.3 1292.1 L842.1 1299.0 L833.5 1293.8 L823.2 1287.0 L816.3 1278.4 L811.2 1273.2 L819.8 1276.6 L826.6 1280.1 L833.5 1283.5 L840.4 1287.0 L845.5 1283.5 L854.1 1274.9 L864.4 1268.1 L873.0 1259.5 L878.2 1252.6 L874.7 1245.7 L874.7 1235.4 L879.9 1225.1 L888.5 1211.4 L891.9 1197.7 L893.6 1183.9 L898.8 1170.2 L903.9 1159.9Z" fill="#222222"/>
<path d="M951.7 1152.0 L961.3 1150.0 L967.3 1165.0 L972.0 1177.0 L978.0 1189.0 L981.7 1198.7 L979.3 1208.3 L977.0 1218.0 L977.0 1227.5 L971.0 1232.3 L968.5 1234.7 L966.0 1227.5 L967.3 1215.5 L971.0 1206.0 L968.5 1196.3 L963.7 1186.6 L960.0 1177.0 L956.5 1165.0Z" fill="#222222"/>
<path d="M1197.5 1119.6 L1187.2 1121.3 L1176.9 1128.2 L1171.7 1138.5 L1161.4 1148.8 L1154.5 1162.5 L1151.1 1171.1 L1159.7 1164.2 L1168.3 1155.6 L1178.6 1148.8 L1188.2 1141.9 L1192.3 1131.6 L1200.9 1129.9Z" fill="#222222"/>
<path d="M1890.3 1301.1 L1890.7 1307.1 L1892.7 1313.9 L1893.4 1320.6 L1892.7 1326.7" fill="none" stroke="#FF85E2" stroke-width="4.2" stroke-linecap="round" stroke-linejoin="round"/>
<path d="M1882.6 1311.2 L1883.0 1311.8" fill="none" stroke="#FF85E2" stroke-width="2.0" stroke-linecap="round" stroke-linejoin="round"/>
<path d="M1898.8 1341.5 L1900.8 1345.5 L1902.4 1348.2" fill="none" stroke="#FF85E2" stroke-width="2.0" stroke-linecap="round" stroke-linejoin="round"/>
<path d="M1891.1 1343.2 L1891.6 1343.8" fill="none" stroke="#FF85E2" stroke-width="1.6" stroke-linecap="round" stroke-linejoin="round"/>
<path d="M1903.5 1352.6 L1903.8 1353.4" fill="none" stroke="#FF85E2" stroke-width="1.6" stroke-linecap="round" stroke-linejoin="round"/>
<path d="M1901.5 1363.7 L1904.8 1363.0 L1905.5 1365.7" fill="none" stroke="#FF85E2" stroke-width="1.4" stroke-linecap="round" stroke-linejoin="round"/>
<path d="M1908.2 1386.6 L1908.6 1387.6" fill="none" stroke="#FF85E2" stroke-width="1.5" stroke-linecap="round" stroke-linejoin="round"/>
<path d="M1912.0 1394.6 L1912.4 1395.7" fill="none" stroke="#FF85E2" stroke-width="1.5" stroke-linecap="round" stroke-linejoin="round"/>
<path d="M1913.6 1408.1 L1913.9 1409.7" fill="none" stroke="#FF85E2" stroke-width="1.6" stroke-linecap="round" stroke-linejoin="round"/>
<path d="M1914.9 1414.8 L1915.3 1421.6 L1915.6 1428.3" fill="none" stroke="#FF85E2" stroke-width="1.6" stroke-linecap="round" stroke-linejoin="round"/>
<path d="M1906.2 1442.5 L1906.4 1442.9" fill="none" stroke="#FF85E2" stroke-width="1.2" stroke-linecap="round" stroke-linejoin="round"/>
<path d="M1910.2 1443.8 L1910.5 1444.7" fill="none" stroke="#FF85E2" stroke-width="1.2" stroke-linecap="round" stroke-linejoin="round"/>
<path d="M1910.5 1455.9 L1911.0 1466.0 L1910.5 1477.5" fill="none" stroke="#FF85E2" stroke-width="3.2" stroke-linecap="round" stroke-linejoin="round"/>
<path d="M1904.8 1489.6 L1902.8 1497.0 L1900.5 1503.7 L1899.7 1509.1" fill="none" stroke="#FF85E2" stroke-width="3.6" stroke-linecap="round" stroke-linejoin="round"/>
<path d="M1898.8 1511.8 L1898.1 1522.6 L1898.4 1532.0" fill="none" stroke="#FF85E2" stroke-width="2.2" stroke-linecap="round" stroke-linejoin="round"/>
<path d="M1891.1 1540.7 L1890.3 1552.2 L1890.6 1563.6" fill="none" stroke="#FF85E2" stroke-width="3.0" stroke-linecap="round" stroke-linejoin="round"/>
<path d="M1905.8 1544.1 L1904.6 1548.8" fill="none" stroke="#FF85E2" stroke-width="1.6" stroke-linecap="round" stroke-linejoin="round"/>
<path d="M1902.1 1558.9 L1901.6 1562.3" fill="none" stroke="#FF85E2" stroke-width="1.2" stroke-linecap="round" stroke-linejoin="round"/>
<path d="M156.1 1350.6 L163.0 1354.7 L171.2 1358.8 L176.7 1360.2 L180.8 1356.1 L182.2 1365.7 L183.6 1376.7 L180.8 1384.9 L182.2 1393.2 L186.3 1400.1 L191.8 1405.5 L193.2 1412.4 L187.7 1412.4 L182.2 1406.9 L178.1 1401.4 L174.0 1397.3 L168.5 1393.2 L163.0 1389.1 L156.1 1389.1 L152.0 1383.6 L152.0 1376.7 L156.1 1371.2 L158.8 1363.0 L156.1 1356.1Z" fill="none" stroke="#F5884E" stroke-width="2.6" stroke-linejoin="round"/>
<g clip-path="url(#land)">
<path d="M124.6 910.0 L124.6 1009.8 L369.8 1256.3" fill="none" stroke="#1c1c1c" stroke-width="1.5"/>
<path d="M384.4 918.6 L384.4 1156.4" fill="none" stroke="#1c1c1c" stroke-width="1.5"/>
<path d="M533.0 918.6 L533.0 1169.7 L478.4 1225.0" fill="none" stroke="#1c1c1c" stroke-width="1.5"/>
<path d="M597.6 918.6 L597.6 1161.7 L475.7 1283.0" fill="none" stroke="#1c1c1c" stroke-width="1.5"/>
<path d="M140.0 1173.0 L217.9 1251.6 L334.5 1251.6" fill="none" stroke="#1c1c1c" stroke-width="1.5"/>
<path d="M151.3 1256.3 L229.9 1338.3 L289.8 1338.3" fill="none" stroke="#1c1c1c" stroke-width="1.5"/>
<path d="M144.6 1471.5 L213.2 1471.5" fill="none" stroke="#1c1c1c" stroke-width="1.5"/>
<path d="M144.6 1536.8 L231.9 1536.8" fill="none" stroke="#1c1c1c" stroke-width="1.5"/>
<path d="M276.5 1794.6 L307.8 1762.6 L307.8 1371.6" fill="none" stroke="#1c1c1c" stroke-width="1.5"/>
<path d="M334.5 1794.6 L334.5 1327.6" fill="none" stroke="#1c1c1c" stroke-width="1.5"/>
<path d="M436.4 1794.6 L436.4 1396.2" fill="none" stroke="#1c1c1c" stroke-width="1.5"/>
<path d="M482.4 1794.6 L482.4 1501.5" fill="none" stroke="#1c1c1c" stroke-width="1.5"/>
<path d="M646.3 1794.6 L646.3 1507.5" fill="none" stroke="#1c1c1c" stroke-width="1.5"/>
<path d="M764.8 1794.6 L764.8 1548.0" fill="none" stroke="#1c1c1c" stroke-width="1.5"/>
</g>
<path d="M451.0 918.6 L451.0 1111.0" fill="none" stroke="#eeeeee" stroke-width="1.8"/>
<path d="M126.6 1329.6 L126.6 1349.6 L154.6 1378.2" fill="none" stroke="#eeeeee" stroke-width="1.8"/>
<path d="M1657.7 1794.6 L1657.7 1616.7" fill="none" stroke="#eeeeee" stroke-width="1.8"/>
<path d="M1768.0 1422.0 L1768.0 1467.5" fill="none" stroke="#eeeeee" stroke-width="1.8"/>
<path d="M312.0 1251.6 L334.5 1251.6" fill="none" stroke="#eeeeee" stroke-width="1.8"/>
<path d="M277.0 1338.3 L289.8 1338.3" fill="none" stroke="#eeeeee" stroke-width="1.8"/>
<circle cx="369.8" cy="1256.3" r="3.6" fill="#1a1a1a"/>
<circle cx="384.4" cy="1156.4" r="3.6" fill="#1a1a1a"/>
<circle cx="451" cy="1111" r="3.6" fill="#f4f4f4"/>
<circle cx="478.4" cy="1225" r="3.6" fill="#1a1a1a"/>
<circle cx="475.7" cy="1283" r="3.6" fill="#1a1a1a"/>
<circle cx="334.5" cy="1251.6" r="3.6" fill="#f4f4f4"/>
<circle cx="289.8" cy="1338.3" r="3.6" fill="#f4f4f4"/>
<circle cx="154.6" cy="1378.2" r="3.6" fill="#f4f4f4"/>
<circle cx="213.2" cy="1471.5" r="3.6" fill="#1a1a1a"/>
<circle cx="231.9" cy="1536.8" r="3.6" fill="#1a1a1a"/>
<circle cx="307.8" cy="1371.6" r="3.6" fill="#1a1a1a"/>
<circle cx="334.5" cy="1327.6" r="3.6" fill="#1a1a1a"/>
<circle cx="436.4" cy="1396.2" r="3.6" fill="#1a1a1a"/>
<circle cx="482.4" cy="1501.5" r="3.6" fill="#1a1a1a"/>
<circle cx="646.3" cy="1507.5" r="3.6" fill="#1a1a1a"/>
<circle cx="764.8" cy="1548" r="3.6" fill="#1a1a1a"/>
<circle cx="1657.7" cy="1616.7" r="3.6" fill="#f4f4f4"/>
<circle cx="1768" cy="1467.5" r="3.6" fill="#f4f4f4"/>
<rect x="89" y="1197" width="64" height="64" fill="#BF00BF"/>
<text x="1396" y="1308.9" font-family="Liberation Sans, sans-serif" font-size="50" fill="#151515" text-anchor="middle">8</text>
<text x="1686" y="1528.9" font-family="Liberation Sans, sans-serif" font-size="50" fill="#151515" text-anchor="middle">9</text>
<text x="1407" y="1662.9" font-family="Liberation Sans, sans-serif" font-size="50" fill="#151515" text-anchor="middle">71</text>
<text x="881" y="1355.9" font-family="Liberation Sans, sans-serif" font-size="50" fill="#151515" text-anchor="middle">72</text>
<text x="647" y="1277.9" font-family="Liberation Sans, sans-serif" font-size="50" fill="#151515" text-anchor="middle">73</text>
<text x="601" y="1390.9" font-family="Liberation Sans, sans-serif" font-size="50" fill="#151515" text-anchor="middle">77</text>
<text x="875.5" y="1689.9" font-family="Liberation Sans, sans-serif" font-size="50" fill="#151515" text-anchor="middle">76</text>
<text x="121.8" y="890.5" font-family="Liberation Sans, sans-serif" font-size="50" fill="#f2f2f2" text-anchor="middle">1</text>
<text x="369.4" y="899.9" font-family="Liberation Sans, sans-serif" font-size="50" fill="#f2f2f2" text-anchor="middle">78</text>
<text x="450.5" y="899.9" font-family="Liberation Sans, sans-serif" font-size="50" fill="#f2f2f2" text-anchor="middle">84</text>
<text x="533" y="899.9" font-family="Liberation Sans, sans-serif" font-size="50" fill="#f2f2f2" text-anchor="middle">83</text>
<text x="615.6" y="899.9" font-family="Liberation Sans, sans-serif" font-size="50" fill="#f2f2f2" text-anchor="middle">75</text>
<text x="119" y="1162.4" font-family="Liberation Sans, sans-serif" font-size="50" fill="#f2f2f2" text-anchor="middle">3</text>
<text x="119" y="1324.9" font-family="Liberation Sans, sans-serif" font-size="50" fill="#f2f2f2" text-anchor="middle">4</text>
<text x="119" y="1486.9" font-family="Liberation Sans, sans-serif" font-size="50" fill="#f2f2f2" text-anchor="middle">7</text>
<text x="119" y="1555.9" font-family="Liberation Sans, sans-serif" font-size="50" fill="#f2f2f2" text-anchor="middle">6</text>
<text x="1768" y="1409.9" font-family="Liberation Sans, sans-serif" font-size="50" fill="#f2f2f2" text-anchor="middle">5</text>
<text x="239.5" y="1846.9" font-family="Liberation Sans, sans-serif" font-size="50" fill="#f2f2f2" text-anchor="middle">74</text>
<text x="334" y="1846.9" font-family="Liberation Sans, sans-serif" font-size="50" fill="#f2f2f2" text-anchor="middle">85</text>
<text x="423.5" y="1846.9" font-family="Liberation Sans, sans-serif" font-size="50" fill="#f2f2f2" text-anchor="middle">80</text>
<text x="498" y="1846.9" font-family="Liberation Sans, sans-serif" font-size="50" fill="#f2f2f2" text-anchor="middle">70</text>
<text x="645" y="1846.9" font-family="Liberation Sans, sans-serif" font-size="50" fill="#f2f2f2" text-anchor="middle">79</text>
<text x="766" y="1846.9" font-family="Liberation Sans, sans-serif" font-size="50" fill="#f2f2f2" text-anchor="middle">82</text>
<text x="1659" y="1846.9" font-family="Liberation Sans, sans-serif" font-size="50" fill="#f2f2f2" text-anchor="middle">81</text>
<text x="120.5" y="1246.4" font-family="Liberation Sans, sans-serif" font-size="50" fill="#ffffff" text-anchor="middle">2</text>
</svg>
<div style="position:absolute;left:150px;top:1917px;width:801px;height:6px;background:#88006A;"></div>
<div class="a" style="top:1949.67px;font-size:50px;left:165px;">1</div>
<div class="a" style="top:1949.67px;font-size:50px;left:222.5px;transform:scaleX(1.0310);">Москва</div>
<div class="a r" style="top:1949.67px;font-size:50px;right:1036px;">38,5</div>
<div style="position:absolute;left:150px;top:2055px;width:801px;height:6px;background:#BF00BF;"></div>
<div style="position:absolute;left:150px;top:2078px;width:801px;height:69px;background:#BF00BF;"></div>
<div class="a" style="top:2086.68px;font-size:50px;left:165px;font-weight:bold;">2</div>
<div class="a" style="top:2086.68px;font-size:50px;left:222.5px;font-weight:bold;transform:scaleX(0.9730);">Белгородская область</div>
<div class="a r" style="top:2086.68px;font-size:50px;right:1036px;font-weight:bold;">27,5</div>
<div class="a" style="top:2156.18px;font-size:50px;left:165px;">3</div>
<div class="a" style="top:2156.18px;font-size:50px;left:222.5px;transform:scaleX(1.0045);">Калужская область</div>
<div class="a r" style="top:2156.18px;font-size:50px;right:1036px;">24,1</div>
<div class="a" style="top:2224.68px;font-size:50px;left:165px;">4</div>
<div class="a" style="top:2224.68px;font-size:50px;left:222.5px;transform:scaleX(1.0332);">Севастополь*</div>
<div class="a r" style="top:2224.68px;font-size:50px;right:1036px;">22,6</div>
<div style="position:absolute;left:225px;top:2284px;width:330px;height:4px;background:#F08040;"></div>
<div style="position:absolute;left:150px;top:2330px;width:801px;height:6px;background:#FF85E2;"></div>
<div class="a" style="top:2362.68px;font-size:50px;left:165px;">5</div>
<div class="a" style="top:2362.68px;font-size:50px;left:222.5px;transform:scaleX(1.0033);">Сахалинская область</div>
<div class="a r" style="top:2362.68px;font-size:50px;right:1036px;">18,4</div>
<div class="a" style="top:2431.68px;font-size:50px;left:165px;">6</div>
<div class="a" style="top:2431.68px;font-size:50px;left:222.5px;transform:scaleX(1.0255);">Кабардино-Балкария</div>
<div class="a r" style="top:2431.68px;font-size:50px;right:1036px;">14,0</div>
<div class="a" style="top:2500.68px;font-size:50px;left:165px;">7</div>
<div class="a" style="top:2500.68px;font-size:50px;left:222.5px;transform:scaleX(0.9972);">Адыгея</div>
<div class="a r" style="top:2500.68px;font-size:50px;right:1036px;">12,7</div>
<div class="a" style="top:2569.68px;font-size:50px;left:165px;">8</div>
<div class="a" style="top:2569.68px;font-size:50px;left:222.5px;transform:scaleX(0.9681);">Саха (Якутия)</div>
<div class="a r" style="top:2569.68px;font-size:50px;right:1036px;">11,9</div>
<div class="a" style="top:2638.68px;font-size:50px;left:165px;">9</div>
<div class="a" style="top:2638.68px;font-size:50px;left:222.5px;transform:scaleX(1.0354);">Хабаровский край</div>
<div class="a r" style="top:2638.68px;font-size:50px;right:1036px;">11,6</div>
<div style="position:absolute;left:1054px;top:1917px;width:769px;height:6px;background:#3DF5C0;"></div>
<div class="a" style="top:1949.67px;font-size:50px;left:1053.5px;">70</div>
<div class="a" style="top:1949.67px;font-size:50px;left:1135.5px;transform:scaleX(1.0289);">Оренбургская область</div>
<div class="a r" style="top:1949.67px;font-size:50px;right:147px;">-10,4</div>
<div class="a" style="top:2018.67px;font-size:50px;left:1053.5px;">71</div>
<div class="a" style="top:2018.67px;font-size:50px;left:1135.5px;transform:scaleX(1.0420);">Забайкальский край</div>
<div class="a r" style="top:2018.67px;font-size:50px;right:147px;">-10,8</div>
<div class="a" style="top:2087.68px;font-size:50px;left:1053.5px;">72</div>
<div class="a" style="top:2087.68px;font-size:50px;left:1135.5px;transform:scaleX(1.0099);">Ямало-Ненецкий АО</div>
<div class="a r" style="top:2087.68px;font-size:50px;right:147px;">-11,0</div>
<div class="a" style="top:2156.68px;font-size:50px;left:1053.5px;">73</div>
<div class="a" style="top:2156.68px;font-size:50px;left:1135.5px;transform:scaleX(1.0398);">Коми</div>
<div class="a r" style="top:2156.68px;font-size:50px;right:147px;">-11,2</div>
<div class="a" style="top:2225.68px;font-size:50px;left:1053.5px;">74</div>
<div class="a" style="top:2225.68px;font-size:50px;left:1135.5px;transform:scaleX(1.0237);">Воронежская область</div>
<div class="a r" style="top:2225.68px;font-size:50px;right:147px;">-11,5</div>
<div class="a" style="top:2294.68px;font-size:50px;left:1053.5px;">75</div>
<div class="a" style="top:2294.68px;font-size:50px;left:1135.5px;transform:scaleX(1.0167);">Костромская область</div>
<div class="a r" style="top:2294.68px;font-size:50px;right:147px;">-11,9</div>
<div class="a" style="top:2363.68px;font-size:50px;left:1053.5px;">76</div>
<div class="a" style="top:2363.68px;font-size:50px;left:1135.5px;transform:scaleX(1.0340);">Алтайский край</div>
<div class="a r" style="top:2363.68px;font-size:50px;right:147px;">-12,0</div>
<div class="a" style="top:2432.68px;font-size:50px;left:1053.5px;">77</div>
<div class="a" style="top:2432.68px;font-size:50px;left:1135.5px;transform:scaleX(1.0460);">Пермский край</div>
<div class="a r" style="top:2432.68px;font-size:50px;right:147px;">-12,0</div>
<div class="a" style="top:2501.68px;font-size:50px;left:1053.5px;">78</div>
<div class="a" style="top:2501.68px;font-size:50px;left:1135.5px;transform:scaleX(1.0269);">Новгородская область</div>
<div class="a r" style="top:2501.68px;font-size:50px;right:147px;">-13,0</div>
<div class="a" style="top:2570.68px;font-size:50px;left:1053.5px;">79</div>
<div class="a" style="top:2570.68px;font-size:50px;left:1135.5px;transform:scaleX(1.0224);">Курганская область</div>
<div class="a r" style="top:2570.68px;font-size:50px;right:147px;">-13,7</div>
<div class="a" style="top:2639.68px;font-size:50px;left:1053.5px;">80</div>
<div class="a" style="top:2639.68px;font-size:50px;left:1135.5px;transform:scaleX(1.0242);">Ульяновская область</div>
<div class="a r" style="top:2639.68px;font-size:50px;right:147px;">-13,8</div>
<div class="a" style="top:2708.68px;font-size:50px;left:1053.5px;">81</div>
<div class="a" style="top:2708.68px;font-size:50px;left:1135.5px;transform:scaleX(0.9838);">Еврейская АО</div>
<div class="a r" style="top:2708.68px;font-size:50px;right:147px;">-15,9</div>
<div class="a" style="top:2777.68px;font-size:50px;left:1053.5px;">82</div>
<div class="a" style="top:2777.68px;font-size:50px;left:1135.5px;transform:scaleX(1.0022);">Омская область</div>
<div class="a r" style="top:2777.68px;font-size:50px;right:147px;">-16,6</div>
<div class="a" style="top:2846.68px;font-size:50px;left:1053.5px;">83</div>
<div class="a" style="top:2846.68px;font-size:50px;left:1135.5px;transform:scaleX(1.0132);">Вологодская область</div>
<div class="a r" style="top:2846.68px;font-size:50px;right:147px;">-17,0</div>
<div style="position:absolute;left:1054px;top:2951px;width:769px;height:6px;background:#00AA8C;"></div>
<div class="a" style="top:2983.68px;font-size:50px;left:1053.5px;">84</div>
<div class="a" style="top:2983.68px;font-size:50px;left:1135.5px;transform:scaleX(1.0150);">Карелия</div>
<div class="a r" style="top:2983.68px;font-size:50px;right:147px;">-20,1</div>
<div class="a" style="top:3052.68px;font-size:50px;left:1053.5px;">85</div>
<div class="a" style="top:3052.68px;font-size:50px;left:1135.5px;transform:scaleX(1.0305);">Липецкая область</div>
<div class="a r" style="top:3052.68px;font-size:50px;right:147px;">-20,7</div>
<div style="position:absolute;left:166px;top:2958px;width:38px;height:37px;border:4px solid #F08040"></div>
<div class="a" style="top:2955.25px;font-size:44px;left:220.5px;transform:scaleX(1.0893);">Россия аннексировала</div>
<div class="a" style="top:3006.25px;font-size:44px;left:220.5px;transform:scaleX(1.0898);">Крым и Севастополь</div>
<div class="a" style="top:3057.25px;font-size:44px;left:220.5px;transform:scaleX(1.0842);">в 2014 году</div>
<div class="a" style="top:3138.60px;font-size:43px;left:163.3px;color:#b5b5b5;transform:scaleX(1.0453);">Источник: Росстат</div>
<div class="a" style="top:3206.83px;font-size:51px;left:1302px;color:#EEFF41;-webkit-text-stroke:1.2px #222222;transform:scaleX(1.1206);">t.me/svobodnieslova</div>
<div class="a" style="top:3193.74px;font-size:83px;left:176px;color:#EEFF41;-webkit-text-stroke:1.3px #222222;transform:scaleX(1.1025);">вёрстка</div>
<div style="position:absolute;left:167px;top:3222.3px;width:17px;height:4.4px;background:#EEFF41;"></div>
</div></body></html>
